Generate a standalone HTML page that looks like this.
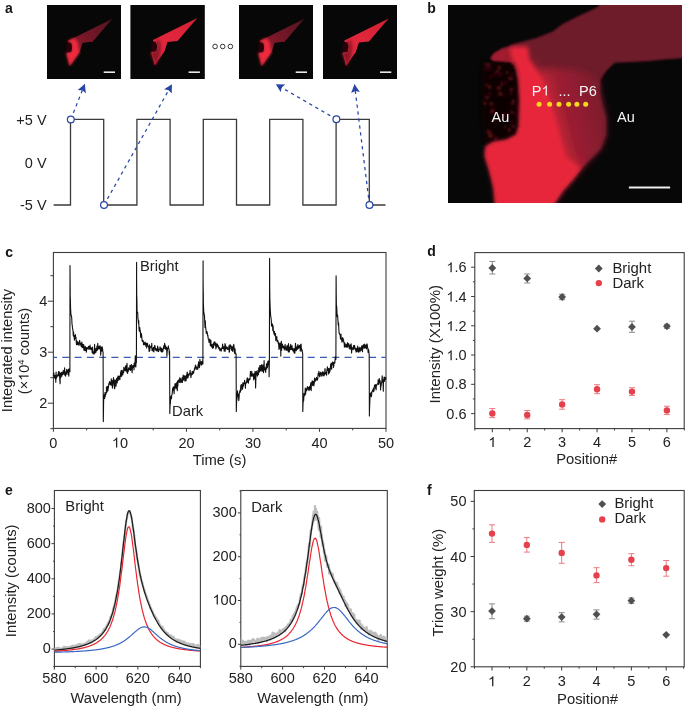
<!DOCTYPE html><html><head><meta charset="utf-8"><style>
html,body{margin:0;padding:0;background:#fff;}
svg{display:block;will-change:transform;}
text{font-family:"Liberation Sans", sans-serif;}
</style></head><body>
<svg width="685" height="709" viewBox="0 0 685 709">
<rect width="685" height="709" fill="#fff"/>
<defs>
<filter id="bl1" x="-20%" y="-20%" width="140%" height="140%"><feGaussianBlur stdDeviation="0.7"/></filter>
<filter id="bl2" x="-20%" y="-20%" width="140%" height="140%"><feGaussianBlur stdDeviation="1.5"/></filter>
<filter id="bl3" x="-20%" y="-20%" width="140%" height="140%"><feGaussianBlur stdDeviation="3"/></filter>
<filter id="bu2" filterUnits="userSpaceOnUse" x="430" y="-10" width="270" height="230"><feGaussianBlur stdDeviation="2"/></filter>
<filter id="bu3" filterUnits="userSpaceOnUse" x="430" y="-10" width="270" height="230"><feGaussianBlur stdDeviation="3.5"/></filter>
<filter id="bu1" filterUnits="userSpaceOnUse" x="430" y="-10" width="270" height="230"><feGaussianBlur stdDeviation="1.3"/></filter>
<marker id="ah" viewBox="0 0 8.2 9" refX="7.9" refY="4.5" markerWidth="8.2" markerHeight="9" markerUnits="userSpaceOnUse" orient="auto"><path d="M0,0.1 L8.2,4.5 L0,8.9 L1.5,4.5 Z" fill="#2846a6"/></marker>
</defs>

<text x="5.0" y="13.0" font-size="14" text-anchor="start" fill="#151515" font-weight="bold" >a</text>
<text x="427.3" y="12.6" font-size="14" text-anchor="start" fill="#151515" font-weight="bold" >b</text>
<text x="5.3" y="256.8" font-size="14" text-anchor="start" fill="#151515" font-weight="bold" >c</text>
<text x="427.2" y="256.2" font-size="14" text-anchor="start" fill="#151515" font-weight="bold" >d</text>
<text x="5.0" y="495.2" font-size="14" text-anchor="start" fill="#151515" font-weight="bold" >e</text>
<text x="427.0" y="495.4" font-size="14" text-anchor="start" fill="#151515" font-weight="bold" >f</text>
<rect x="47" y="5" width="74" height="74" fill="#070707"/>
<linearGradient id="fg47" gradientUnits="userSpaceOnUse" x1="75" y1="45" x2="109" y2="21"><stop offset="0" stop-color="#881a2c"/><stop offset="1" stop-color="#561220"/></linearGradient>
<polygon points="68.1,40.8 112.4,18.8 92.6,41.7 82.6,42.8 79.4,52.5 69.7,66.0 66.4,53.6 67.0,52.5 71.5,51.8 72.2,46.0 71.0,42.8 68.3,42.3" fill="url(#fg47)" filter="url(#bl1)"/>
<polygon points="68.1,40.8 74.5,38.2 77.5,42.0 79.4,52.5 69.7,66.0 66.4,53.6 67.0,52.5 71.5,51.8 72.2,46.0 71.0,42.8 68.3,42.3" fill="#f02a3c" filter="url(#bl2)"/>
<polygon points="66.5,42.5 71.0,43.0 72.0,48.0 71.0,52.0 66.5,52.5" fill="#2a0508" filter="url(#bl1)"/>
<line x1="103.70" y1="72.20" x2="115.00" y2="72.20" stroke="#e8e8e8" stroke-width="1.6" />
<rect x="130.4" y="5" width="74.4" height="74" fill="#070707"/>
<linearGradient id="fg130" gradientUnits="userSpaceOnUse" x1="159.9" y1="44.2" x2="193.9" y2="20.2"><stop offset="0" stop-color="#e4283c"/><stop offset="1" stop-color="#d42236"/></linearGradient>
<polygon points="153.0,40.0 197.3,18.0 177.5,40.9 167.5,42.0 164.3,51.7 154.6,65.2 151.3,52.8 151.9,51.7 156.4,51.0 157.1,45.2 155.9,42.0 153.2,41.5" fill="url(#fg130)" filter="url(#bl1)"/>
<polygon points="150.9,51.7 156.4,51.0 157.4,45.2 155.9,40.7 158.9,39.2 160.9,44.2 160.4,54.2 155.4,66.2 150.9,53.2" fill="#8e1627" filter="url(#bl2)"/>
<polygon points="151.4,41.7 155.9,42.2 156.9,47.2 155.9,51.2 151.4,51.7" fill="#2a0508" filter="url(#bl1)"/>
<line x1="188.60" y1="72.20" x2="199.90" y2="72.20" stroke="#e8e8e8" stroke-width="1.6" />
<rect x="239" y="5" width="74" height="74" fill="#070707"/>
<linearGradient id="fg239" gradientUnits="userSpaceOnUse" x1="267" y1="45" x2="301" y2="21"><stop offset="0" stop-color="#881a2c"/><stop offset="1" stop-color="#561220"/></linearGradient>
<polygon points="260.1,40.8 304.4,18.8 284.6,41.7 274.6,42.8 271.4,52.5 261.7,66.0 258.4,53.6 259.0,52.5 263.5,51.8 264.2,46.0 263.0,42.8 260.3,42.3" fill="url(#fg239)" filter="url(#bl1)"/>
<polygon points="260.1,40.8 266.5,38.2 269.5,42.0 271.4,52.5 261.7,66.0 258.4,53.6 259.0,52.5 263.5,51.8 264.2,46.0 263.0,42.8 260.3,42.3" fill="#f02a3c" filter="url(#bl2)"/>
<polygon points="258.5,42.5 263.0,43.0 264.0,48.0 263.0,52.0 258.5,52.5" fill="#2a0508" filter="url(#bl1)"/>
<line x1="295.70" y1="72.20" x2="307.00" y2="72.20" stroke="#e8e8e8" stroke-width="1.6" />
<rect x="323" y="5" width="74" height="74" fill="#070707"/>
<linearGradient id="fg323" gradientUnits="userSpaceOnUse" x1="351.3" y1="44.7" x2="385.3" y2="20.7"><stop offset="0" stop-color="#e4283c"/><stop offset="1" stop-color="#d42236"/></linearGradient>
<polygon points="344.4,40.5 388.7,18.5 368.9,41.4 358.9,42.5 355.7,52.2 346.0,65.7 342.7,53.3 343.3,52.2 347.8,51.5 348.5,45.7 347.3,42.5 344.6,42.0" fill="url(#fg323)" filter="url(#bl1)"/>
<polygon points="342.3,52.2 347.8,51.5 348.8,45.7 347.3,41.2 350.3,39.7 352.3,44.7 351.8,54.7 346.8,66.7 342.3,53.7" fill="#8e1627" filter="url(#bl2)"/>
<polygon points="342.8,42.2 347.3,42.7 348.3,47.7 347.3,51.7 342.8,52.2" fill="#2a0508" filter="url(#bl1)"/>
<line x1="380.00" y1="72.20" x2="391.30" y2="72.20" stroke="#e8e8e8" stroke-width="1.6" />
<circle cx="215.1" cy="46.5" r="2.3" fill="none" stroke="#333" stroke-width="1"/>
<circle cx="222.7" cy="46.5" r="2.3" fill="none" stroke="#333" stroke-width="1"/>
<circle cx="230.4" cy="46.5" r="2.3" fill="none" stroke="#333" stroke-width="1"/>
<path d="M53.6,205 L70.5,205  L70.5,119.3 L103.7,119.3  L103.7,205 L136.9,205  L136.9,119.3 L170.1,119.3  L170.1,205 L203.3,205  L203.3,119.3 L236.5,119.3  L236.5,205 L269.7,205  L269.7,119.3 L302.9,119.3  L302.9,205 L336.1,205  L336.1,119.3 L369.3,119.3  L369.3,205 L385.5,205" fill="none" stroke="#3a3a3a" stroke-width="1.3"/>
<text x="46.6" y="125.0" font-size="14.5" text-anchor="end" fill="#222" font-weight="normal" >+5 V</text>
<text x="46.6" y="168.3" font-size="14.5" text-anchor="end" fill="#222" font-weight="normal" >0 V</text>
<text x="46.6" y="210.4" font-size="14.5" text-anchor="end" fill="#222" font-weight="normal" >-5 V</text>
<path d="M70.8,119.4 L84.7,84.4" stroke="#2846a6" stroke-width="1.25" stroke-dasharray="3.3 3.7" fill="none" marker-end="url(#ah)"/>
<path d="M104,205 L171.8,84.6" stroke="#2846a6" stroke-width="1.25" stroke-dasharray="3.3 3.7" fill="none" marker-end="url(#ah)"/>
<path d="M336.4,119.3 L276.1,84.4" stroke="#2846a6" stroke-width="1.25" stroke-dasharray="3.3 3.7" fill="none" marker-end="url(#ah)"/>
<path d="M369.5,205 L354.5,84.6" stroke="#2846a6" stroke-width="1.25" stroke-dasharray="3.3 3.7" fill="none" marker-end="url(#ah)"/>
<circle cx="70.8" cy="119.4" r="3.4" fill="#fff" stroke="#2846a6" stroke-width="1.25"/>
<circle cx="104" cy="205" r="3.4" fill="#fff" stroke="#2846a6" stroke-width="1.25"/>
<circle cx="336.4" cy="119.3" r="3.4" fill="#fff" stroke="#2846a6" stroke-width="1.25"/>
<circle cx="369.5" cy="205" r="3.4" fill="#fff" stroke="#2846a6" stroke-width="1.25"/>
<clipPath id="cb"><rect x="448" y="5" width="234" height="198"/></clipPath>
<rect x="448" y="5" width="234" height="198" fill="#070707"/>
<g clip-path="url(#cb)">
<polygon points="482.0,62.0 515.0,62.0 520.0,100.0 519.0,126.0 516.0,135.0 506.0,140.0 493.0,142.0 485.0,146.0 482.0,117.0" fill="#100405" filter="url(#bu3)"/>
<g filter="url(#bu1)">
<circle cx="489.4" cy="68.5" r="2.5" fill="rgb(39,5,7)"/>
<circle cx="495.8" cy="72.7" r="2.4" fill="rgb(52,7,10)"/>
<circle cx="510.6" cy="78.2" r="2.5" fill="rgb(77,11,15)"/>
<circle cx="501.5" cy="82.7" r="1.5" fill="rgb(60,8,12)"/>
<circle cx="486.9" cy="68.7" r="2.5" fill="rgb(43,6,8)"/>
<circle cx="513.2" cy="126.1" r="2.3" fill="rgb(52,7,10)"/>
<circle cx="512.0" cy="75.9" r="2.1" fill="rgb(38,5,7)"/>
<circle cx="492.4" cy="111.4" r="2.4" fill="rgb(79,11,15)"/>
<circle cx="509.3" cy="130.1" r="2.1" fill="rgb(71,10,14)"/>
<circle cx="515.2" cy="67.1" r="1.9" fill="rgb(60,8,12)"/>
<circle cx="504.2" cy="115.1" r="2.5" fill="rgb(48,6,9)"/>
<circle cx="500.2" cy="74.6" r="2.3" fill="rgb(48,6,9)"/>
<circle cx="498.9" cy="67.3" r="2.5" fill="rgb(35,5,7)"/>
<circle cx="501.9" cy="84.6" r="2.1" fill="rgb(51,7,10)"/>
<circle cx="516.4" cy="106.9" r="1.4" fill="rgb(59,8,11)"/>
<circle cx="500.3" cy="93.9" r="2.4" fill="rgb(70,10,14)"/>
<circle cx="504.0" cy="95.3" r="1.3" fill="rgb(47,6,9)"/>
<circle cx="486.5" cy="85.0" r="1.4" fill="rgb(73,10,14)"/>
<circle cx="512.5" cy="63.5" r="1.7" fill="rgb(70,10,14)"/>
<circle cx="491.2" cy="103.8" r="2.3" fill="rgb(65,9,13)"/>
<circle cx="498.8" cy="88.1" r="2.5" fill="rgb(63,9,12)"/>
<circle cx="496.5" cy="76.6" r="1.2" fill="rgb(37,5,7)"/>
<circle cx="505.3" cy="82.7" r="2.2" fill="rgb(42,6,8)"/>
<circle cx="494.2" cy="121.2" r="1.9" fill="rgb(51,7,10)"/>
<circle cx="492.8" cy="105.8" r="2.1" fill="rgb(43,6,8)"/>
<circle cx="510.6" cy="110.5" r="1.3" fill="rgb(40,5,8)"/>
<circle cx="489.5" cy="87.1" r="2.3" fill="rgb(68,9,13)"/>
<circle cx="487.1" cy="97.6" r="2.5" fill="rgb(54,7,10)"/>
<circle cx="496.4" cy="137.4" r="2.4" fill="rgb(39,5,7)"/>
<circle cx="504.8" cy="127.1" r="1.3" fill="rgb(69,9,13)"/>
<circle cx="491.7" cy="75.7" r="1.8" fill="rgb(48,6,9)"/>
<circle cx="497.8" cy="71.2" r="2.3" fill="rgb(54,7,10)"/>
<circle cx="495.3" cy="138.9" r="1.7" fill="rgb(66,9,13)"/>
<circle cx="511.3" cy="89.7" r="2.4" fill="rgb(60,8,12)"/>
<circle cx="491.6" cy="68.0" r="1.3" fill="rgb(42,6,8)"/>
<circle cx="488.3" cy="64.9" r="2.5" fill="rgb(58,8,11)"/>
<circle cx="507.1" cy="72.3" r="1.9" fill="rgb(62,8,12)"/>
<circle cx="484.9" cy="103.4" r="1.8" fill="rgb(80,11,16)"/>
<circle cx="511.0" cy="93.6" r="2.3" fill="rgb(39,5,7)"/>
<circle cx="489.7" cy="93.7" r="2.1" fill="rgb(47,6,9)"/>
<circle cx="489.9" cy="132.9" r="2.1" fill="rgb(65,9,13)"/>
<circle cx="513.2" cy="100.9" r="1.8" fill="rgb(70,10,14)"/>
<circle cx="489.7" cy="77.1" r="1.4" fill="rgb(45,6,9)"/>
<circle cx="489.3" cy="131.3" r="1.4" fill="rgb(44,6,8)"/>
<circle cx="485.7" cy="64.2" r="1.7" fill="rgb(56,8,11)"/>
<circle cx="517.1" cy="106.4" r="1.6" fill="rgb(35,5,7)"/>
<circle cx="516.0" cy="113.6" r="2.2" fill="rgb(35,5,7)"/>
<circle cx="511.6" cy="121.1" r="2.1" fill="rgb(42,6,8)"/>
<circle cx="499.8" cy="67.6" r="2.0" fill="rgb(66,9,13)"/>
<circle cx="488.4" cy="131.7" r="2.3" fill="rgb(73,10,14)"/>
<circle cx="493.5" cy="113.9" r="1.9" fill="rgb(39,5,7)"/>
<circle cx="512.0" cy="112.7" r="1.9" fill="rgb(61,8,12)"/>
<circle cx="512.6" cy="103.3" r="2.4" fill="rgb(57,8,11)"/>
<circle cx="506.2" cy="116.2" r="1.5" fill="rgb(46,6,9)"/>
<circle cx="490.7" cy="135.7" r="2.6" fill="rgb(75,10,15)"/>
</g>
<polygon points="490.9,57.6 500.6,48.8 518.0,42.7 535.6,38.3 553.1,31.3 562.0,24.3 579.5,15.5 597.0,7.6 600.5,3.0 690.0,3.0 690.0,57.6 667.0,59.3 649.6,61.0 632.0,62.0 614.6,62.8 605.8,71.6 600.5,80.3 599.7,92.6 602.3,105.0 605.8,117.5 605.8,135.0 600.6,149.0 586.5,163.0 574.3,177.0 562.0,191.0 552.0,206.0 495.3,206.0 493.5,187.6 489.2,170.0 484.8,156.0 485.7,146.4 493.5,142.0 505.8,140.3 516.3,135.0 519.0,126.3 519.8,100.0 518.0,80.0 515.0,66.0 510.0,61.0 500.0,60.5 492.0,60.0" fill="#6e1a29" filter="url(#bu1)"/>
<linearGradient id="gb" gradientUnits="userSpaceOnUse" x1="545" y1="120" x2="605" y2="105"><stop offset="0" stop-color="#b02236"/><stop offset="1" stop-color="#7a1b2c"/></linearGradient>
<polygon points="534.0,72.0 550.0,68.0 575.0,70.0 592.0,74.0 600.0,84.0 600.0,92.0 603.0,105.0 605.8,117.5 605.8,135.0 600.6,149.0 586.5,163.0 574.3,177.0 562.0,191.0 552.0,206.0 530.0,206.0" fill="url(#gb)" filter="url(#bu3)"/>
<polygon points="490.5,58.5 494.0,53.0 502.0,49.5 512.0,47.0 516.0,58.0 513.0,62.5 503.0,61.5 494.0,61.0" fill="#a01c2e" filter="url(#bu1)"/>
<clipPath id="cdim"><polygon points="490.9,57.6 500.6,48.8 518.0,42.7 535.6,38.3 553.1,31.3 562.0,24.3 579.5,15.5 597.0,7.6 600.5,3.0 690.0,3.0 690.0,57.6 667.0,59.3 649.6,61.0 632.0,62.0 614.6,62.8 605.8,71.6 600.5,80.3 599.7,92.6 602.3,105.0 605.8,117.5 605.8,135.0 600.6,149.0 586.5,163.0 574.3,177.0 562.0,191.0 552.0,206.0 495.3,206.0 493.5,187.6 489.2,170.0 484.8,156.0 485.7,146.4 493.5,142.0 505.8,140.3 516.3,135.0 519.0,126.3 519.8,100.0 518.0,80.0 515.0,66.0 510.0,61.0 500.0,60.5 492.0,60.0"/></clipPath>
<linearGradient id="gmlow" gradientUnits="userSpaceOnUse" x1="0" y1="52" x2="0" y2="82"><stop offset="0" stop-color="#000"/><stop offset="1" stop-color="#fff"/></linearGradient>
<mask id="mlow" maskUnits="userSpaceOnUse" x="440" y="0" width="250" height="215"><rect x="440" y="0" width="250" height="215" fill="url(#gmlow)"/></mask>
<filter id="bu6" filterUnits="userSpaceOnUse" x="430" y="-10" width="270" height="230"><feGaussianBlur stdDeviation="6"/></filter>
<g clip-path="url(#cdim)"><g mask="url(#mlow)"><polygon points="515.0,46.5 532.0,46.5 533.5,59.3 545.7,78.8 554.2,103.2 560.3,122.7 565.0,142.2 570.0,158.0 584.0,168.0 578.3,177.0 566.0,191.0 556.0,206.0 499.3,206.0 497.5,187.6 493.2,170.0 488.8,156.0 489.7,146.4 497.5,142.0 509.8,140.3 520.3,135.0 523.0,126.3 523.8,100.0 523.0,80.0 521.0,68.0 517.0,60.0 514.0,52.0" fill="#d42638" filter="url(#bu6)" opacity="0.85"/></g></g>
<polygon points="511.0,46.5 528.0,46.5 529.5,59.3 541.7,78.8 550.2,103.2 556.3,122.7 561.0,142.2 566.0,158.0 580.0,168.0 574.3,177.0 562.0,191.0 552.0,206.0 495.3,206.0 493.5,187.6 489.2,170.0 484.8,156.0 485.7,146.4 493.5,142.0 505.8,140.3 516.3,135.0 519.0,126.3 519.8,100.0 519.0,80.0 517.0,68.0 513.0,60.0 510.0,52.0" fill="#e8283b" filter="url(#bu2)"/>
</g>
<line x1="628.90" y1="187.60" x2="670.10" y2="187.60" stroke="#eee" stroke-width="2" />
<circle cx="539.1" cy="104.2" r="2.5" fill="#f4d81c"/>
<circle cx="549.6" cy="104.2" r="2.5" fill="#f4d81c"/>
<circle cx="559" cy="104.2" r="2.5" fill="#f4d81c"/>
<circle cx="568.6" cy="104.2" r="2.5" fill="#f4d81c"/>
<circle cx="576.9" cy="104.2" r="2.5" fill="#f4d81c"/>
<circle cx="585.7" cy="104.2" r="2.5" fill="#f4d81c"/>
<text x="531.8" y="95.6" font-size="14.5" text-anchor="start" fill="#f4f4f4" font-weight="normal" >P&#8199;</text>
<path d="M763,0H583V1100Q518,1040 412,980Q307,920 223,890V1060Q374,1128 487,1225Q600,1322 647,1409H763Z" fill="#f4f4f4" transform="translate(541.47,95.6) scale(0.007080,-0.007080)"/>
<text x="558.5" y="95.6" font-size="14.5" text-anchor="start" fill="#f4f4f4" font-weight="normal" >...</text>
<text x="579.0" y="95.6" font-size="14.5" text-anchor="start" fill="#f4f4f4" font-weight="normal" >P6</text>
<text x="491.5" y="122.0" font-size="14.5" text-anchor="start" fill="#f4f4f4" font-weight="normal" >Au</text>
<text x="617.0" y="122.0" font-size="14.5" text-anchor="start" fill="#f4f4f4" font-weight="normal" >Au</text>
<rect x="53.4" y="252.5" width="332.6" height="175.89999999999998" fill="none" stroke="#3c3c3c" stroke-width="1.1"/>
<line x1="50.40" y1="428.70" x2="53.40" y2="428.70" stroke="#3c3c3c" stroke-width="1" />
<line x1="47.90" y1="403.20" x2="53.40" y2="403.20" stroke="#3c3c3c" stroke-width="1" />
<text x="39.24" y="407.70" font-size="14.5" fill="#222">2</text>
<line x1="50.40" y1="377.70" x2="53.40" y2="377.70" stroke="#3c3c3c" stroke-width="1" />
<line x1="47.90" y1="352.20" x2="53.40" y2="352.20" stroke="#3c3c3c" stroke-width="1" />
<text x="39.24" y="356.70" font-size="14.5" fill="#222">3</text>
<line x1="50.40" y1="326.70" x2="53.40" y2="326.70" stroke="#3c3c3c" stroke-width="1" />
<line x1="47.90" y1="301.20" x2="53.40" y2="301.20" stroke="#3c3c3c" stroke-width="1" />
<text x="39.24" y="305.70" font-size="14.5" fill="#222">4</text>
<line x1="50.40" y1="275.70" x2="53.40" y2="275.70" stroke="#3c3c3c" stroke-width="1" />
<line x1="53.40" y1="428.40" x2="53.40" y2="431.80" stroke="#3c3c3c" stroke-width="1" />
<text x="49.37" y="447.60" font-size="14.5" fill="#222">0</text>
<line x1="86.66" y1="428.40" x2="86.66" y2="430.40" stroke="#3c3c3c" stroke-width="1" />
<line x1="119.92" y1="428.40" x2="119.92" y2="431.80" stroke="#3c3c3c" stroke-width="1" />
<text x="111.86" y="447.60" font-size="14.5" fill="#222">&#8199;0</text>
<path d="M763,0H583V1100Q518,1040 412,980Q307,920 223,890V1060Q374,1128 487,1225Q600,1322 647,1409H763Z" fill="#222" transform="translate(111.86,447.60) scale(0.007080,-0.007080)"/>
<line x1="153.18" y1="428.40" x2="153.18" y2="430.40" stroke="#3c3c3c" stroke-width="1" />
<line x1="186.44" y1="428.40" x2="186.44" y2="431.80" stroke="#3c3c3c" stroke-width="1" />
<text x="178.38" y="447.60" font-size="14.5" fill="#222">20</text>
<line x1="219.70" y1="428.40" x2="219.70" y2="430.40" stroke="#3c3c3c" stroke-width="1" />
<line x1="252.96" y1="428.40" x2="252.96" y2="431.80" stroke="#3c3c3c" stroke-width="1" />
<text x="244.90" y="447.60" font-size="14.5" fill="#222">30</text>
<line x1="286.22" y1="428.40" x2="286.22" y2="430.40" stroke="#3c3c3c" stroke-width="1" />
<line x1="319.48" y1="428.40" x2="319.48" y2="431.80" stroke="#3c3c3c" stroke-width="1" />
<text x="311.42" y="447.60" font-size="14.5" fill="#222">40</text>
<line x1="352.74" y1="428.40" x2="352.74" y2="430.40" stroke="#3c3c3c" stroke-width="1" />
<line x1="386.00" y1="428.40" x2="386.00" y2="431.80" stroke="#3c3c3c" stroke-width="1" />
<text x="377.94" y="447.60" font-size="14.5" fill="#222">50</text>
<text transform="translate(11.7,350.5) rotate(-90)" font-size="14.6" text-anchor="middle" fill="#222">Integrated intensity</text>
<g transform="translate(28.6,351) rotate(-90)"><text x="-43.14" y="0" font-size="14.5" fill="#222">(×&#8199;0<tspan font-size="9.5" dy="-5">4</tspan><tspan dy="5"> counts)</tspan></text><path d="M763,0H583V1100Q518,1040 412,980Q307,920 223,890V1060Q374,1128 487,1225Q600,1322 647,1409H763Z" fill="#222" transform="translate(-29.85,0) scale(0.007080,-0.007080)"/></g>
<text x="219.5" y="465.0" font-size="14.8" text-anchor="middle" fill="#222" font-weight="normal" >Time (s)</text>
<line x1="53.4" y1="357.3" x2="386" y2="357.3" stroke="#3a5ab4" stroke-width="1.2" stroke-dasharray="7 5.27" stroke-dashoffset="3.35"/>
<path d="M53.4,376.3 L53.7,372.7 L53.9,373.5 L54.2,377.2 L54.5,377.1 L54.7,378.2 L55.0,375.4 L55.3,378.2 L55.5,376.7 L55.8,382.3 L56.1,372.0 L56.3,378.5 L56.6,376.4 L56.9,377.0 L57.1,376.9 L57.4,375.3 L57.7,374.8 L57.9,375.8 L58.2,374.4 L58.5,371.6 L58.7,373.9 L59.0,376.0 L59.3,371.9 L59.5,373.6 L59.8,379.7 L60.1,383.8 L60.3,373.1 L60.6,375.3 L60.9,377.5 L61.1,373.8 L61.4,372.3 L61.6,374.8 L61.9,376.2 L62.2,373.6 L62.4,372.5 L62.7,374.5 L63.0,371.8 L63.2,370.5 L63.5,372.9 L63.8,374.2 L64.0,371.6 L64.3,371.8 L64.6,367.8 L64.8,375.1 L65.1,374.3 L65.4,374.2 L65.6,376.2 L65.9,372.3 L66.2,371.2 L66.4,374.2 L66.7,369.4 L67.0,371.1 L67.2,371.2 L67.5,372.4 L67.8,370.1 L68.0,374.5 L68.3,370.7 L68.6,369.1 L68.8,376.1 L69.1,370.4 L69.4,371.8 L69.6,368.8 L69.9,371.7 L70.0,265.5 L70.1,279.9 L70.2,289.0 L70.2,295.0 L70.4,300.1 L70.6,308.8 L70.9,313.9 L71.2,315.1 L71.4,315.8 L71.7,317.6 L72.0,324.2 L72.2,324.9 L72.5,327.9 L72.8,329.6 L73.0,330.4 L73.3,335.6 L73.6,332.3 L73.8,336.7 L74.1,335.3 L74.4,340.1 L74.6,339.2 L74.9,338.2 L75.2,335.6 L75.4,334.6 L75.7,338.1 L76.0,337.5 L76.2,341.1 L76.5,344.8 L76.7,340.8 L77.0,341.1 L77.3,344.5 L77.5,342.3 L77.8,342.0 L78.1,344.5 L78.3,345.2 L78.6,343.0 L78.9,343.4 L79.1,343.9 L79.4,341.4 L79.7,340.3 L79.9,345.2 L80.2,342.9 L80.5,343.4 L80.7,344.0 L81.0,344.1 L81.3,346.8 L81.5,344.4 L81.8,342.1 L82.1,343.7 L82.3,347.7 L82.6,345.6 L82.9,344.6 L83.1,346.2 L83.4,347.9 L83.7,344.5 L83.9,350.2 L84.2,347.3 L84.5,348.1 L84.7,350.4 L85.0,346.2 L85.3,347.4 L85.5,350.5 L85.8,347.2 L86.1,348.8 L86.3,352.3 L86.6,350.0 L86.9,347.9 L87.1,347.5 L87.4,348.8 L87.7,348.8 L87.9,347.9 L88.2,349.2 L88.5,346.2 L88.7,348.0 L89.0,347.4 L89.3,346.6 L89.5,349.3 L89.8,348.6 L90.1,345.1 L90.3,348.0 L90.6,349.2 L90.9,347.8 L91.1,349.5 L91.4,348.0 L91.6,349.7 L91.9,349.1 L92.2,352.7 L92.4,347.1 L92.7,350.9 L93.0,353.6 L93.2,351.8 L93.5,352.6 L93.8,351.9 L94.0,354.1 L94.3,350.9 L94.6,344.4 L94.8,353.1 L95.1,349.1 L95.4,349.7 L95.6,348.8 L95.9,352.5 L96.2,351.2 L96.4,348.0 L96.7,349.9 L97.0,346.0 L97.2,350.4 L97.5,349.1 L97.8,343.4 L98.0,349.2 L98.3,349.1 L98.6,347.2 L98.8,347.3 L99.1,346.0 L99.4,348.1 L99.6,348.9 L99.9,348.3 L100.2,345.7 L100.4,348.0 L100.7,355.2 L101.0,350.2 L101.2,351.6 L101.5,347.3 L101.8,350.7 L102.0,346.6 L102.3,347.5 L102.6,348.9 L102.8,351.5 L103.1,352.2 L103.3,421.6 L103.4,417.0 L103.5,410.0 L103.6,401.6 L103.9,396.2 L104.2,394.9 L104.4,398.3 L104.7,398.5 L105.0,392.6 L105.2,396.6 L105.5,393.6 L105.8,394.8 L106.0,392.3 L106.3,393.0 L106.5,386.8 L106.8,392.5 L107.1,389.9 L107.3,389.8 L107.6,386.4 L107.9,391.0 L108.1,388.4 L108.4,387.9 L108.7,384.8 L108.9,383.3 L109.2,384.6 L109.5,381.5 L109.7,383.0 L110.0,382.1 L110.3,382.3 L110.5,384.9 L110.8,383.8 L111.1,383.1 L111.3,378.7 L111.6,385.3 L111.9,383.8 L112.1,380.2 L112.4,388.1 L112.7,386.0 L112.9,385.5 L113.2,382.7 L113.5,377.5 L113.7,381.8 L114.0,379.6 L114.3,384.5 L114.5,388.6 L114.8,388.4 L115.1,380.0 L115.3,382.4 L115.6,385.9 L115.9,380.9 L116.1,386.1 L116.4,379.5 L116.7,378.4 L116.9,382.6 L117.2,382.9 L117.5,377.5 L117.7,380.9 L118.0,376.0 L118.3,380.2 L118.5,376.0 L118.8,376.5 L119.1,377.8 L119.3,379.2 L119.6,376.2 L119.9,379.8 L120.1,375.8 L120.4,375.2 L120.7,371.7 L120.9,376.5 L121.2,370.2 L121.4,373.6 L121.7,376.2 L122.0,370.9 L122.2,370.3 L122.5,373.9 L122.8,374.9 L123.0,371.8 L123.3,373.0 L123.6,372.6 L123.8,367.2 L124.1,369.5 L124.4,369.4 L124.6,369.2 L124.9,370.8 L125.2,368.5 L125.4,366.3 L125.7,370.8 L126.0,370.5 L126.2,365.3 L126.5,370.4 L126.8,372.1 L127.0,363.2 L127.3,371.4 L127.6,373.5 L127.8,369.6 L128.1,371.6 L128.4,370.6 L128.6,367.9 L128.9,368.9 L129.2,369.1 L129.4,369.6 L129.7,369.1 L130.0,365.2 L130.2,370.1 L130.5,370.4 L130.8,365.3 L131.0,369.7 L131.3,365.0 L131.6,364.7 L131.8,368.8 L132.1,372.6 L132.4,368.1 L132.6,366.7 L132.9,365.6 L133.2,367.5 L133.4,365.2 L133.7,365.3 L134.0,369.8 L134.2,363.0 L134.5,365.1 L134.8,366.4 L135.0,364.3 L135.3,355.7 L135.6,361.3 L135.8,366.9 L136.1,362.4 L136.4,362.5 L136.6,262.4 L136.6,278.0 L136.7,287.9 L136.7,294.3 L136.9,298.7 L137.1,313.0 L137.4,312.6 L137.7,312.3 L137.9,318.2 L138.2,320.2 L138.5,323.5 L138.7,320.6 L139.0,328.8 L139.3,331.1 L139.5,328.5 L139.8,327.5 L140.1,331.5 L140.3,330.6 L140.6,336.3 L140.9,337.5 L141.1,333.1 L141.4,334.0 L141.7,335.5 L141.9,338.8 L142.2,340.9 L142.5,341.3 L142.7,340.4 L143.0,340.5 L143.3,341.6 L143.5,344.6 L143.8,342.2 L144.1,344.2 L144.3,344.2 L144.6,344.6 L144.9,344.6 L145.1,342.0 L145.4,343.2 L145.7,343.6 L145.9,346.1 L146.2,343.2 L146.5,344.4 L146.7,347.9 L147.0,343.4 L147.3,345.4 L147.5,343.4 L147.8,346.0 L148.1,346.2 L148.3,346.3 L148.6,346.9 L148.9,348.7 L149.1,351.4 L149.4,344.8 L149.7,350.9 L149.9,348.8 L150.2,346.9 L150.5,347.2 L150.7,346.8 L151.0,346.2 L151.3,345.8 L151.5,347.8 L151.8,343.4 L152.0,350.5 L152.3,348.4 L152.6,349.6 L152.8,350.9 L153.1,349.5 L153.4,347.4 L153.6,351.2 L153.9,351.9 L154.2,348.6 L154.4,348.0 L154.7,345.4 L155.0,346.1 L155.2,347.8 L155.5,350.0 L155.8,349.0 L156.0,348.7 L156.3,350.9 L156.6,348.9 L156.8,349.6 L157.1,350.1 L157.4,350.9 L157.6,346.1 L157.9,348.4 L158.2,347.9 L158.4,351.4 L158.7,351.4 L159.0,350.0 L159.2,349.9 L159.5,349.4 L159.8,349.3 L160.0,346.7 L160.3,347.9 L160.6,350.2 L160.8,351.1 L161.1,350.3 L161.4,348.1 L161.6,352.0 L161.9,350.2 L162.2,349.0 L162.4,350.4 L162.7,352.0 L163.0,350.6 L163.2,348.9 L163.5,347.6 L163.8,345.7 L164.0,346.4 L164.3,348.7 L164.6,343.3 L164.8,344.9 L165.1,344.8 L165.4,345.8 L165.6,349.3 L165.9,349.0 L166.2,348.5 L166.4,347.1 L166.7,349.8 L166.9,356.3 L167.2,351.1 L167.5,350.0 L167.7,347.9 L168.0,348.3 L168.3,345.7 L168.5,347.7 L168.8,348.6 L169.1,349.6 L169.3,354.8 L169.6,351.1 L169.8,413.4 L169.9,410.3 L170.0,405.6 L170.1,405.2 L170.4,402.9 L170.7,396.4 L170.9,396.3 L171.2,398.8 L171.5,398.8 L171.7,395.1 L172.0,395.0 L172.3,392.6 L172.5,389.9 L172.8,387.7 L173.1,390.4 L173.3,386.7 L173.6,387.7 L173.9,391.1 L174.1,393.8 L174.4,386.8 L174.7,388.3 L174.9,383.9 L175.2,386.7 L175.5,387.4 L175.7,383.5 L176.0,389.0 L176.3,386.9 L176.5,386.8 L176.8,382.2 L177.1,382.7 L177.3,390.8 L177.6,380.9 L177.9,386.1 L178.1,381.3 L178.4,382.1 L178.7,380.6 L178.9,379.5 L179.2,380.7 L179.5,382.5 L179.7,377.7 L180.0,380.1 L180.3,381.1 L180.5,380.6 L180.8,382.6 L181.1,378.0 L181.3,381.1 L181.6,380.8 L181.9,380.4 L182.1,382.4 L182.4,382.4 L182.6,377.4 L182.9,377.8 L183.2,375.0 L183.4,376.8 L183.7,380.3 L184.0,376.3 L184.2,375.9 L184.5,375.8 L184.8,377.8 L185.0,381.3 L185.3,376.0 L185.6,379.5 L185.8,376.5 L186.1,380.8 L186.4,375.0 L186.6,378.2 L186.9,374.0 L187.2,372.0 L187.4,372.9 L187.7,378.0 L188.0,377.3 L188.2,377.2 L188.5,374.1 L188.8,374.0 L189.0,375.4 L189.3,373.6 L189.6,374.0 L189.8,372.9 L190.1,370.4 L190.4,373.4 L190.6,373.3 L190.9,377.7 L191.2,375.7 L191.4,373.9 L191.7,374.8 L192.0,373.2 L192.2,371.4 L192.5,374.3 L192.8,373.3 L193.0,373.6 L193.3,371.6 L193.6,373.3 L193.8,371.1 L194.1,370.8 L194.4,369.2 L194.6,367.8 L194.9,369.7 L195.2,368.7 L195.4,365.0 L195.7,367.4 L196.0,366.1 L196.2,366.9 L196.5,368.0 L196.8,369.4 L197.0,369.3 L197.3,367.4 L197.5,368.6 L197.8,369.2 L198.1,364.2 L198.3,367.2 L198.6,361.9 L198.9,365.2 L199.1,364.1 L199.4,367.8 L199.7,365.5 L199.9,359.2 L200.2,362.6 L200.5,362.1 L200.7,363.9 L201.0,361.7 L201.3,365.3 L201.5,364.2 L201.8,361.9 L202.1,361.3 L202.3,364.2 L202.6,363.7 L202.9,363.9 L203.1,260.9 L203.1,277.1 L203.2,287.4 L203.3,294.0 L203.4,303.7 L203.7,311.1 L203.9,312.5 L204.2,314.7 L204.5,316.2 L204.7,321.6 L205.0,327.4 L205.3,320.7 L205.5,325.8 L205.8,329.0 L206.1,330.1 L206.3,333.5 L206.6,331.2 L206.9,332.0 L207.1,331.8 L207.4,333.9 L207.7,336.1 L207.9,335.4 L208.2,338.7 L208.5,339.4 L208.7,339.2 L209.0,342.4 L209.3,340.1 L209.5,341.0 L209.8,339.0 L210.1,341.0 L210.3,345.6 L210.6,342.0 L210.9,340.3 L211.1,346.3 L211.4,345.1 L211.7,344.6 L211.9,347.3 L212.2,346.0 L212.4,344.7 L212.7,348.4 L213.0,344.7 L213.2,343.7 L213.5,347.6 L213.8,344.1 L214.0,342.1 L214.3,344.5 L214.6,343.1 L214.8,341.7 L215.1,345.4 L215.4,343.1 L215.6,344.2 L215.9,348.9 L216.2,343.3 L216.4,343.9 L216.7,344.6 L217.0,347.3 L217.2,345.3 L217.5,344.1 L217.8,346.1 L218.0,345.2 L218.3,345.7 L218.6,348.3 L218.8,347.3 L219.1,349.2 L219.4,347.4 L219.6,349.3 L219.9,350.7 L220.2,349.7 L220.4,349.4 L220.7,349.4 L221.0,348.2 L221.2,351.1 L221.5,349.3 L221.8,348.3 L222.0,347.7 L222.3,348.4 L222.6,344.0 L222.8,346.0 L223.1,348.7 L223.4,347.4 L223.6,346.7 L223.9,347.3 L224.2,351.3 L224.4,348.2 L224.7,347.2 L225.0,343.5 L225.2,351.3 L225.5,344.9 L225.8,347.9 L226.0,346.3 L226.3,348.6 L226.6,348.0 L226.8,347.3 L227.1,349.1 L227.3,347.2 L227.6,349.1 L227.9,349.3 L228.1,349.0 L228.4,349.3 L228.7,348.5 L228.9,345.8 L229.2,352.2 L229.5,351.8 L229.7,348.7 L230.0,344.5 L230.3,346.3 L230.5,345.2 L230.8,345.6 L231.1,348.7 L231.3,346.7 L231.6,350.2 L231.9,347.9 L232.1,346.2 L232.4,350.0 L232.7,351.4 L232.9,349.6 L233.2,347.2 L233.5,346.3 L233.7,344.4 L234.0,346.2 L234.3,351.4 L234.5,353.2 L234.8,348.9 L235.1,348.9 L235.3,354.0 L235.6,353.0 L235.9,353.8 L236.1,353.9 L236.3,411.4 L236.4,408.6 L236.5,404.4 L236.7,398.8 L236.9,400.1 L237.2,396.7 L237.5,390.9 L237.7,396.2 L238.0,395.5 L238.3,394.1 L238.5,396.3 L238.8,400.6 L239.1,397.8 L239.3,392.9 L239.6,392.5 L239.9,390.9 L240.1,390.1 L240.4,392.2 L240.7,387.2 L240.9,385.0 L241.2,390.3 L241.5,384.5 L241.7,386.7 L242.0,385.9 L242.3,385.9 L242.5,389.3 L242.8,382.7 L243.0,387.1 L243.3,385.0 L243.6,385.5 L243.8,382.7 L244.1,383.0 L244.4,383.6 L244.6,380.2 L244.9,382.4 L245.2,383.3 L245.4,388.2 L245.7,382.7 L246.0,383.5 L246.2,383.2 L246.5,382.6 L246.8,380.2 L247.0,379.2 L247.3,377.9 L247.6,378.7 L247.8,382.5 L248.1,380.0 L248.4,383.3 L248.6,379.0 L248.9,379.3 L249.2,380.3 L249.4,378.7 L249.7,378.8 L250.0,379.4 L250.2,375.1 L250.5,371.2 L250.8,375.7 L251.0,374.6 L251.3,376.0 L251.6,375.6 L251.8,371.2 L252.1,376.4 L252.4,374.3 L252.6,375.4 L252.9,373.9 L253.2,375.3 L253.4,375.5 L253.7,380.0 L254.0,376.8 L254.2,373.6 L254.5,378.8 L254.8,377.3 L255.0,371.3 L255.3,372.9 L255.6,387.9 L255.8,381.9 L256.1,371.7 L256.4,374.6 L256.6,374.7 L256.9,371.2 L257.2,370.7 L257.4,376.1 L257.7,375.1 L257.9,373.3 L258.2,372.8 L258.5,374.6 L258.7,367.8 L259.0,370.3 L259.3,371.8 L259.5,372.0 L259.8,365.5 L260.1,365.9 L260.3,370.8 L260.6,369.1 L260.9,365.5 L261.1,371.2 L261.4,369.5 L261.7,364.6 L261.9,369.6 L262.2,368.9 L262.5,371.2 L262.7,369.4 L263.0,365.1 L263.3,368.2 L263.5,372.8 L263.8,369.4 L264.1,360.6 L264.3,367.6 L264.6,370.0 L264.9,367.7 L265.1,368.4 L265.4,369.4 L265.7,372.4 L265.9,367.7 L266.2,367.3 L266.5,364.1 L266.7,369.0 L267.0,363.4 L267.3,366.2 L267.5,367.4 L267.8,361.4 L268.1,364.9 L268.3,361.6 L268.6,363.9 L268.9,360.4 L269.1,376.7 L269.4,357.9 L269.6,258.4 L269.7,275.6 L269.7,286.4 L269.8,293.4 L269.9,299.8 L270.2,308.5 L270.5,313.1 L270.7,316.2 L271.0,318.0 L271.3,320.0 L271.5,325.8 L271.8,326.0 L272.1,326.5 L272.3,323.8 L272.6,325.7 L272.8,330.4 L273.1,325.9 L273.4,331.3 L273.6,331.6 L273.9,333.7 L274.2,334.3 L274.4,331.4 L274.7,334.9 L275.0,335.8 L275.2,334.5 L275.5,333.6 L275.8,340.4 L276.0,339.6 L276.3,339.4 L276.6,337.4 L276.8,336.6 L277.1,341.5 L277.4,341.3 L277.6,340.5 L277.9,340.5 L278.2,343.4 L278.4,342.4 L278.7,344.9 L279.0,349.4 L279.2,347.8 L279.5,344.3 L279.8,343.0 L280.0,348.3 L280.3,347.0 L280.6,343.6 L280.8,356.1 L281.1,342.4 L281.4,341.3 L281.6,350.3 L281.9,344.3 L282.2,347.4 L282.4,344.0 L282.7,346.5 L283.0,347.9 L283.2,347.5 L283.5,346.1 L283.8,346.8 L284.0,346.8 L284.3,350.0 L284.6,346.5 L284.8,347.5 L285.1,344.4 L285.4,348.3 L285.6,348.8 L285.9,350.1 L286.2,347.1 L286.4,348.7 L286.7,350.3 L287.0,346.1 L287.2,345.2 L287.5,349.5 L287.7,350.4 L288.0,346.2 L288.3,352.0 L288.5,343.6 L288.8,349.1 L289.1,347.2 L289.3,352.0 L289.6,348.8 L289.9,346.7 L290.1,348.4 L290.4,349.8 L290.7,344.2 L290.9,347.0 L291.2,348.2 L291.5,349.4 L291.7,347.9 L292.0,345.5 L292.3,349.8 L292.5,349.2 L292.8,350.6 L293.1,348.2 L293.3,351.2 L293.6,349.3 L293.9,351.1 L294.1,352.9 L294.4,350.1 L294.7,348.4 L294.9,353.2 L295.2,348.8 L295.5,343.2 L295.7,350.5 L296.0,348.1 L296.3,350.8 L296.5,347.2 L296.8,349.2 L297.1,346.0 L297.3,347.1 L297.6,349.3 L297.9,344.6 L298.1,346.8 L298.4,348.2 L298.7,346.5 L298.9,348.3 L299.2,345.6 L299.5,346.7 L299.7,347.0 L300.0,345.4 L300.3,351.1 L300.5,344.8 L300.8,350.0 L301.1,344.0 L301.3,347.8 L301.6,349.3 L301.9,351.5 L302.1,349.8 L302.4,352.2 L302.7,353.1 L302.8,411.4 L302.9,408.6 L303.0,404.4 L303.2,401.4 L303.4,400.8 L303.7,400.5 L304.0,393.4 L304.2,395.7 L304.5,394.8 L304.8,395.6 L305.0,393.5 L305.3,388.0 L305.6,394.3 L305.8,391.6 L306.1,389.5 L306.4,388.7 L306.6,390.8 L306.9,390.3 L307.2,387.6 L307.4,386.6 L307.7,387.4 L308.0,388.0 L308.2,389.3 L308.5,388.0 L308.8,387.3 L309.0,390.6 L309.3,388.7 L309.6,386.3 L309.8,386.9 L310.1,389.5 L310.4,385.8 L310.6,384.6 L310.9,382.7 L311.2,390.6 L311.4,382.5 L311.7,384.7 L312.0,382.9 L312.2,380.8 L312.5,385.4 L312.8,384.6 L313.0,382.7 L313.3,381.4 L313.6,384.5 L313.8,386.0 L314.1,384.4 L314.4,381.0 L314.6,378.0 L314.9,381.9 L315.2,381.1 L315.4,380.5 L315.7,378.8 L316.0,380.5 L316.2,378.9 L316.5,377.3 L316.8,378.5 L317.0,378.7 L317.3,380.1 L317.6,379.0 L317.8,378.8 L318.1,374.0 L318.3,373.0 L318.6,375.2 L318.9,371.4 L319.1,374.8 L319.4,375.2 L319.7,376.8 L319.9,373.1 L320.2,374.8 L320.5,373.0 L320.7,372.2 L321.0,374.3 L321.3,376.3 L321.5,373.6 L321.8,373.7 L322.1,373.3 L322.3,371.9 L322.6,374.7 L322.9,375.8 L323.1,372.0 L323.4,372.3 L323.7,374.8 L323.9,375.9 L324.2,375.3 L324.5,373.3 L324.7,372.5 L325.0,368.5 L325.3,373.9 L325.5,373.4 L325.8,373.9 L326.1,372.5 L326.3,373.3 L326.6,375.3 L326.9,369.4 L327.1,370.3 L327.4,366.9 L327.7,370.5 L327.9,369.2 L328.2,368.7 L328.5,374.0 L328.7,372.7 L329.0,368.3 L329.3,369.4 L329.5,372.8 L329.8,371.1 L330.1,370.8 L330.3,369.0 L330.6,364.3 L330.9,368.4 L331.1,363.1 L331.4,368.4 L331.7,369.2 L331.9,363.4 L332.2,364.7 L332.5,363.2 L332.7,361.9 L333.0,363.3 L333.2,362.5 L333.5,367.4 L333.8,365.6 L334.0,362.5 L334.3,362.8 L334.6,361.9 L334.8,363.1 L335.1,359.8 L335.4,356.9 L335.6,359.6 L335.9,359.4 L336.1,275.7 L336.2,286.1 L336.2,292.8 L336.3,297.3 L336.4,304.8 L336.7,306.3 L337.0,312.9 L337.2,316.8 L337.5,314.7 L337.8,318.4 L338.0,321.1 L338.3,325.2 L338.6,322.9 L338.8,328.0 L339.1,333.2 L339.4,333.5 L339.6,334.1 L339.9,334.6 L340.2,334.6 L340.4,338.4 L340.7,339.1 L341.0,334.0 L341.2,338.4 L341.5,340.2 L341.8,339.7 L342.0,342.2 L342.3,339.0 L342.6,337.6 L342.8,341.3 L343.1,338.4 L343.4,340.5 L343.6,340.3 L343.9,342.8 L344.2,343.5 L344.4,347.2 L344.7,342.7 L345.0,344.0 L345.2,344.5 L345.5,346.6 L345.8,346.9 L346.0,346.4 L346.3,344.5 L346.6,345.9 L346.8,347.3 L347.1,345.1 L347.4,342.8 L347.6,347.3 L347.9,343.1 L348.2,345.4 L348.4,343.5 L348.7,346.3 L348.9,344.1 L349.2,348.3 L349.5,345.7 L349.7,345.5 L350.0,349.2 L350.3,348.7 L350.5,344.9 L350.8,345.9 L351.1,343.7 L351.3,346.5 L351.6,352.9 L351.9,347.4 L352.1,348.9 L352.4,348.7 L352.7,348.2 L352.9,349.2 L353.2,349.7 L353.5,345.6 L353.7,346.6 L354.0,348.6 L354.3,347.9 L354.5,345.4 L354.8,347.3 L355.1,347.7 L355.3,350.0 L355.6,349.1 L355.9,350.3 L356.1,352.2 L356.4,348.2 L356.7,350.6 L356.9,350.1 L357.2,351.7 L357.5,349.2 L357.7,346.0 L358.0,349.4 L358.3,349.0 L358.5,352.3 L358.8,349.5 L359.1,349.6 L359.3,347.2 L359.6,349.8 L359.9,351.9 L360.1,350.0 L360.4,350.7 L360.7,347.6 L360.9,349.0 L361.2,349.9 L361.5,348.9 L361.7,345.8 L362.0,350.1 L362.3,350.6 L362.5,351.8 L362.8,345.5 L363.1,346.7 L363.3,344.8 L363.6,348.0 L363.8,344.7 L364.1,348.2 L364.4,344.1 L364.6,347.9 L364.9,346.9 L365.2,347.9 L365.4,345.3 L365.7,345.6 L366.0,344.7 L366.2,347.7 L366.5,349.0 L366.8,345.3 L367.0,343.9 L367.3,345.1 L367.6,347.8 L367.8,347.7 L368.1,352.5 L368.4,351.4 L368.6,349.5 L368.9,351.7 L369.2,355.5 L369.4,415.9 L369.4,412.4 L369.6,407.0 L369.7,404.9 L370.0,397.2 L370.2,393.7 L370.5,394.6 L370.8,395.3 L371.0,392.6 L371.3,396.8 L371.6,395.2 L371.8,392.5 L372.1,390.9 L372.4,390.8 L372.6,390.0 L372.9,391.2 L373.2,390.5 L373.4,388.1 L373.7,391.6 L374.0,390.7 L374.2,388.9 L374.5,385.2 L374.8,386.5 L375.0,385.0 L375.3,384.5 L375.6,388.3 L375.8,387.9 L376.1,390.0 L376.4,384.8 L376.6,385.4 L376.9,385.1 L377.2,384.2 L377.4,383.9 L377.7,383.6 L378.0,382.8 L378.2,379.8 L378.5,384.4 L378.7,384.1 L379.0,382.0 L379.3,378.6 L379.5,381.4 L379.8,383.0 L380.1,380.6 L380.3,382.5 L380.6,390.0 L380.9,384.0 L381.1,386.2 L381.4,382.7 L381.7,382.8 L381.9,380.3 L382.2,375.9 L382.5,382.3 L382.7,379.8 L383.0,379.9 L383.3,391.3 L383.5,380.1 L383.8,379.6 L384.1,377.0 L384.3,379.8 L384.6,381.4 L384.9,377.2 L385.1,378.2 L385.4,379.4 L385.7,379.0 L385.9,377.2" fill="none" stroke="#111" stroke-width="1.1" stroke-linejoin="round"/>
<text x="140.0" y="270.8" font-size="14.8" text-anchor="start" fill="#222" font-weight="normal" >Bright</text>
<text x="172.0" y="415.6" font-size="14.8" text-anchor="start" fill="#222" font-weight="normal" >Dark</text>
<rect x="474.8" y="252.6" width="209.40000000000003" height="176.00000000000003" fill="none" stroke="#3c3c3c" stroke-width="1.1"/>
<line x1="471.10" y1="413.60" x2="474.80" y2="413.60" stroke="#3c3c3c" stroke-width="1" />
<text x="446.34" y="418.70" font-size="14.5" fill="#222">0.6</text>
<line x1="472.90" y1="398.96" x2="474.80" y2="398.96" stroke="#3c3c3c" stroke-width="1" />
<line x1="471.10" y1="384.32" x2="474.80" y2="384.32" stroke="#3c3c3c" stroke-width="1" />
<text x="446.34" y="389.42" font-size="14.5" fill="#222">0.8</text>
<line x1="472.90" y1="369.68" x2="474.80" y2="369.68" stroke="#3c3c3c" stroke-width="1" />
<line x1="471.10" y1="355.04" x2="474.80" y2="355.04" stroke="#3c3c3c" stroke-width="1" />
<text x="446.34" y="360.14" font-size="14.5" fill="#222">&#8199;.0</text>
<path d="M763,0H583V1100Q518,1040 412,980Q307,920 223,890V1060Q374,1128 487,1225Q600,1322 647,1409H763Z" fill="#222" transform="translate(446.34,360.14) scale(0.007080,-0.007080)"/>
<line x1="472.90" y1="340.40" x2="474.80" y2="340.40" stroke="#3c3c3c" stroke-width="1" />
<line x1="471.10" y1="325.76" x2="474.80" y2="325.76" stroke="#3c3c3c" stroke-width="1" />
<text x="446.34" y="330.86" font-size="14.5" fill="#222">&#8199;.2</text>
<path d="M763,0H583V1100Q518,1040 412,980Q307,920 223,890V1060Q374,1128 487,1225Q600,1322 647,1409H763Z" fill="#222" transform="translate(446.34,330.86) scale(0.007080,-0.007080)"/>
<line x1="472.90" y1="311.12" x2="474.80" y2="311.12" stroke="#3c3c3c" stroke-width="1" />
<line x1="471.10" y1="296.48" x2="474.80" y2="296.48" stroke="#3c3c3c" stroke-width="1" />
<text x="446.34" y="301.58" font-size="14.5" fill="#222">&#8199;.4</text>
<path d="M763,0H583V1100Q518,1040 412,980Q307,920 223,890V1060Q374,1128 487,1225Q600,1322 647,1409H763Z" fill="#222" transform="translate(446.34,301.58) scale(0.007080,-0.007080)"/>
<line x1="472.90" y1="281.84" x2="474.80" y2="281.84" stroke="#3c3c3c" stroke-width="1" />
<line x1="471.10" y1="267.20" x2="474.80" y2="267.20" stroke="#3c3c3c" stroke-width="1" />
<text x="446.34" y="272.30" font-size="14.5" fill="#222">&#8199;.6</text>
<path d="M763,0H583V1100Q518,1040 412,980Q307,920 223,890V1060Q374,1128 487,1225Q600,1322 647,1409H763Z" fill="#222" transform="translate(446.34,272.30) scale(0.007080,-0.007080)"/>
<line x1="474.84" y1="428.60" x2="474.84" y2="430.50" stroke="#3c3c3c" stroke-width="1" />
<line x1="492.30" y1="428.60" x2="492.30" y2="432.30" stroke="#3c3c3c" stroke-width="1" />
<text x="488.27" y="447.00" font-size="14.5" fill="#222">&#8199;</text>
<path d="M763,0H583V1100Q518,1040 412,980Q307,920 223,890V1060Q374,1128 487,1225Q600,1322 647,1409H763Z" fill="#222" transform="translate(488.27,447.00) scale(0.007080,-0.007080)"/>
<line x1="509.76" y1="428.60" x2="509.76" y2="430.50" stroke="#3c3c3c" stroke-width="1" />
<line x1="527.22" y1="428.60" x2="527.22" y2="432.30" stroke="#3c3c3c" stroke-width="1" />
<text x="523.19" y="447.00" font-size="14.5" fill="#222">2</text>
<line x1="544.68" y1="428.60" x2="544.68" y2="430.50" stroke="#3c3c3c" stroke-width="1" />
<line x1="562.14" y1="428.60" x2="562.14" y2="432.30" stroke="#3c3c3c" stroke-width="1" />
<text x="558.11" y="447.00" font-size="14.5" fill="#222">3</text>
<line x1="579.60" y1="428.60" x2="579.60" y2="430.50" stroke="#3c3c3c" stroke-width="1" />
<line x1="597.06" y1="428.60" x2="597.06" y2="432.30" stroke="#3c3c3c" stroke-width="1" />
<text x="593.03" y="447.00" font-size="14.5" fill="#222">4</text>
<line x1="614.52" y1="428.60" x2="614.52" y2="430.50" stroke="#3c3c3c" stroke-width="1" />
<line x1="631.98" y1="428.60" x2="631.98" y2="432.30" stroke="#3c3c3c" stroke-width="1" />
<text x="627.95" y="447.00" font-size="14.5" fill="#222">5</text>
<line x1="649.44" y1="428.60" x2="649.44" y2="430.50" stroke="#3c3c3c" stroke-width="1" />
<line x1="666.90" y1="428.60" x2="666.90" y2="432.30" stroke="#3c3c3c" stroke-width="1" />
<text x="662.87" y="447.00" font-size="14.5" fill="#222">6</text>
<line x1="684.36" y1="428.60" x2="684.36" y2="430.50" stroke="#3c3c3c" stroke-width="1" />
<text transform="translate(440.3,344.2) rotate(-90)" font-size="15" text-anchor="middle" fill="#222">Intensity (X100%)</text>
<text x="586.7" y="464.0" font-size="14.8" text-anchor="middle" fill="#222" font-weight="normal" >Position#</text>
<line x1="492.30" y1="261.40" x2="492.30" y2="274.00" stroke="#8a8a8a" stroke-width="1" />
<line x1="489.30" y1="261.40" x2="495.30" y2="261.40" stroke="#8a8a8a" stroke-width="1" />
<line x1="489.30" y1="274.00" x2="495.30" y2="274.00" stroke="#8a8a8a" stroke-width="1" />
<polygon points="492.3,264.1 496.2,268 492.3,271.9 488.40000000000003,268" fill="#505050"/>
<line x1="527.22" y1="274.00" x2="527.22" y2="283.00" stroke="#8a8a8a" stroke-width="1" />
<line x1="524.22" y1="274.00" x2="530.22" y2="274.00" stroke="#8a8a8a" stroke-width="1" />
<line x1="524.22" y1="283.00" x2="530.22" y2="283.00" stroke="#8a8a8a" stroke-width="1" />
<polygon points="527.22,274.5 531.12,278.4 527.22,282.29999999999995 523.32,278.4" fill="#505050"/>
<line x1="562.14" y1="294.30" x2="562.14" y2="299.70" stroke="#8a8a8a" stroke-width="1" />
<line x1="559.14" y1="294.30" x2="565.14" y2="294.30" stroke="#8a8a8a" stroke-width="1" />
<line x1="559.14" y1="299.70" x2="565.14" y2="299.70" stroke="#8a8a8a" stroke-width="1" />
<polygon points="562.14,293.1 566.04,297 562.14,300.9 558.24,297" fill="#505050"/>
<polygon points="597.0600000000001,324.8 600.96,328.7 597.0600000000001,332.59999999999997 593.1600000000001,328.7" fill="#505050"/>
<line x1="631.98" y1="321.20" x2="631.98" y2="332.30" stroke="#8a8a8a" stroke-width="1" />
<line x1="628.98" y1="321.20" x2="634.98" y2="321.20" stroke="#8a8a8a" stroke-width="1" />
<line x1="628.98" y1="332.30" x2="634.98" y2="332.30" stroke="#8a8a8a" stroke-width="1" />
<polygon points="631.98,323.0 635.88,326.9 631.98,330.79999999999995 628.08,326.9" fill="#505050"/>
<line x1="666.90" y1="324.30" x2="666.90" y2="328.30" stroke="#8a8a8a" stroke-width="1" />
<line x1="663.90" y1="324.30" x2="669.90" y2="324.30" stroke="#8a8a8a" stroke-width="1" />
<line x1="663.90" y1="328.30" x2="669.90" y2="328.30" stroke="#8a8a8a" stroke-width="1" />
<polygon points="666.9000000000001,322.40000000000003 670.8000000000001,326.3 666.9000000000001,330.2 663.0000000000001,326.3" fill="#505050"/>
<line x1="492.30" y1="408.60" x2="492.30" y2="417.60" stroke="#ec7a80" stroke-width="1" />
<line x1="489.30" y1="408.60" x2="495.30" y2="408.60" stroke="#ec7a80" stroke-width="1" />
<line x1="489.30" y1="417.60" x2="495.30" y2="417.60" stroke="#ec7a80" stroke-width="1" />
<circle cx="492.3" cy="413.4" r="3.2" fill="#e4414c"/>
<line x1="527.22" y1="410.50" x2="527.22" y2="418.90" stroke="#ec7a80" stroke-width="1" />
<line x1="524.22" y1="410.50" x2="530.22" y2="410.50" stroke="#ec7a80" stroke-width="1" />
<line x1="524.22" y1="418.90" x2="530.22" y2="418.90" stroke="#ec7a80" stroke-width="1" />
<circle cx="527.22" cy="414.9" r="3.2" fill="#e4414c"/>
<line x1="562.14" y1="399.70" x2="562.14" y2="409.20" stroke="#ec7a80" stroke-width="1" />
<line x1="559.14" y1="399.70" x2="565.14" y2="399.70" stroke="#ec7a80" stroke-width="1" />
<line x1="559.14" y1="409.20" x2="565.14" y2="409.20" stroke="#ec7a80" stroke-width="1" />
<circle cx="562.14" cy="404.4" r="3.2" fill="#e4414c"/>
<line x1="597.06" y1="384.70" x2="597.06" y2="393.70" stroke="#ec7a80" stroke-width="1" />
<line x1="594.06" y1="384.70" x2="600.06" y2="384.70" stroke="#ec7a80" stroke-width="1" />
<line x1="594.06" y1="393.70" x2="600.06" y2="393.70" stroke="#ec7a80" stroke-width="1" />
<circle cx="597.0600000000001" cy="389.2" r="3.2" fill="#e4414c"/>
<line x1="631.98" y1="387.70" x2="631.98" y2="395.50" stroke="#ec7a80" stroke-width="1" />
<line x1="628.98" y1="387.70" x2="634.98" y2="387.70" stroke="#ec7a80" stroke-width="1" />
<line x1="628.98" y1="395.50" x2="634.98" y2="395.50" stroke="#ec7a80" stroke-width="1" />
<circle cx="631.98" cy="391.6" r="3.2" fill="#e4414c"/>
<line x1="666.90" y1="406.20" x2="666.90" y2="414.60" stroke="#ec7a80" stroke-width="1" />
<line x1="663.90" y1="406.20" x2="669.90" y2="406.20" stroke="#ec7a80" stroke-width="1" />
<line x1="663.90" y1="414.60" x2="669.90" y2="414.60" stroke="#ec7a80" stroke-width="1" />
<circle cx="666.9000000000001" cy="410.4" r="3.2" fill="#e4414c"/>
<polygon points="598.8,264.6 602.6999999999999,268.5 598.8,272.4 594.9,268.5" fill="#505050"/>
<circle cx="598.8" cy="283.1" r="3.2" fill="#e4414c"/>
<text x="612.4" y="273.2" font-size="14.9" text-anchor="start" fill="#222" font-weight="normal" >Bright</text>
<text x="612.4" y="288.2" font-size="14.9" text-anchor="start" fill="#222" font-weight="normal" >Dark</text>
<rect x="54.4" y="490.5" width="146.0" height="175.89999999999998" fill="none" stroke="#3c3c3c" stroke-width="1.1"/>
<line x1="53.10" y1="666.68" x2="54.40" y2="666.68" stroke="#3c3c3c" stroke-width="1" />
<line x1="51.50" y1="649.10" x2="54.40" y2="649.10" stroke="#3c3c3c" stroke-width="1" />
<text x="42.84" y="653.10" font-size="14.5" fill="#222">0</text>
<line x1="53.10" y1="631.52" x2="54.40" y2="631.52" stroke="#3c3c3c" stroke-width="1" />
<line x1="51.50" y1="613.95" x2="54.40" y2="613.95" stroke="#3c3c3c" stroke-width="1" />
<text x="26.71" y="617.95" font-size="14.5" fill="#222">200</text>
<line x1="53.10" y1="596.38" x2="54.40" y2="596.38" stroke="#3c3c3c" stroke-width="1" />
<line x1="51.50" y1="578.80" x2="54.40" y2="578.80" stroke="#3c3c3c" stroke-width="1" />
<text x="26.71" y="582.80" font-size="14.5" fill="#222">400</text>
<line x1="53.10" y1="561.23" x2="54.40" y2="561.23" stroke="#3c3c3c" stroke-width="1" />
<line x1="51.50" y1="543.65" x2="54.40" y2="543.65" stroke="#3c3c3c" stroke-width="1" />
<text x="26.71" y="547.65" font-size="14.5" fill="#222">600</text>
<line x1="53.10" y1="526.08" x2="54.40" y2="526.08" stroke="#3c3c3c" stroke-width="1" />
<line x1="51.50" y1="508.50" x2="54.40" y2="508.50" stroke="#3c3c3c" stroke-width="1" />
<text x="26.71" y="512.50" font-size="14.5" fill="#222">800</text>
<line x1="54.40" y1="666.40" x2="54.40" y2="669.60" stroke="#3c3c3c" stroke-width="1" />
<text x="42.30" y="683.30" font-size="14.5" fill="#222">580</text>
<line x1="75.26" y1="666.40" x2="75.26" y2="668.20" stroke="#3c3c3c" stroke-width="1" />
<line x1="96.11" y1="666.40" x2="96.11" y2="669.60" stroke="#3c3c3c" stroke-width="1" />
<text x="84.02" y="683.30" font-size="14.5" fill="#222">600</text>
<line x1="116.97" y1="666.40" x2="116.97" y2="668.20" stroke="#3c3c3c" stroke-width="1" />
<line x1="137.83" y1="666.40" x2="137.83" y2="669.60" stroke="#3c3c3c" stroke-width="1" />
<text x="125.73" y="683.30" font-size="14.5" fill="#222">620</text>
<line x1="158.69" y1="666.40" x2="158.69" y2="668.20" stroke="#3c3c3c" stroke-width="1" />
<line x1="179.54" y1="666.40" x2="179.54" y2="669.60" stroke="#3c3c3c" stroke-width="1" />
<text x="167.45" y="683.30" font-size="14.5" fill="#222">640</text>
<line x1="200.40" y1="666.40" x2="200.40" y2="668.20" stroke="#3c3c3c" stroke-width="1" />
<text x="126.1" y="702.5" font-size="14.7" text-anchor="middle" fill="#222" font-weight="normal" >Wavelength (nm)</text>
<text x="65.3" y="510.8" font-size="14.8" text-anchor="start" fill="#222" font-weight="normal" >Bright</text>
<clipPath id="cel"><rect x="54.4" y="490.5" width="146.0" height="175.89999999999998"/></clipPath>
<g clip-path="url(#cel)">
<path d="M54.4,648.8 L54.7,649.7 L55.0,648.5 L55.3,649.5 L55.7,649.1 L56.0,648.4 L56.3,648.1 L56.6,649.3 L56.9,649.3 L57.2,648.1 L57.5,650.8 L57.8,647.8 L58.2,647.8 L58.5,649.4 L58.8,647.8 L59.1,648.4 L59.4,648.3 L59.7,650.2 L60.0,648.9 L60.4,648.6 L60.7,648.8 L61.0,648.7 L61.3,648.6 L61.6,650.4 L61.9,648.5 L62.2,648.8 L62.5,648.3 L62.9,648.6 L63.2,648.2 L63.5,648.0 L63.8,646.9 L64.1,648.7 L64.4,646.9 L64.7,648.2 L65.1,648.6 L65.4,649.0 L65.7,647.3 L66.0,648.9 L66.3,647.2 L66.6,647.6 L66.9,648.1 L67.2,648.2 L67.6,647.3 L67.9,647.5 L68.2,647.1 L68.5,647.5 L68.8,647.8 L69.1,647.1 L69.4,648.2 L69.8,646.8 L70.1,647.3 L70.4,648.0 L70.7,647.9 L71.0,647.4 L71.3,648.4 L71.6,646.1 L71.9,646.3 L72.3,647.7 L72.6,647.0 L72.9,645.7 L73.2,646.5 L73.5,647.4 L73.8,648.2 L74.1,647.8 L74.5,645.7 L74.8,646.3 L75.1,647.3 L75.4,645.9 L75.7,646.6 L76.0,646.7 L76.3,646.6 L76.6,646.4 L77.0,644.9 L77.3,646.6 L77.6,646.2 L77.9,644.9 L78.2,644.7 L78.5,646.4 L78.8,644.2 L79.2,644.8 L79.5,646.5 L79.8,644.2 L80.1,646.4 L80.4,644.8 L80.7,646.0 L81.0,646.3 L81.3,644.4 L81.7,644.6 L82.0,644.9 L82.3,644.6 L82.6,644.7 L82.9,644.7 L83.2,645.2 L83.5,644.0 L83.9,644.3 L84.2,644.3 L84.5,644.5 L84.8,644.2 L85.1,644.9 L85.4,644.0 L85.7,644.3 L86.0,642.6 L86.4,644.1 L86.7,643.6 L87.0,643.2 L87.3,642.5 L87.6,642.6 L87.9,642.8 L88.2,641.2 L88.6,642.6 L88.9,642.2 L89.2,640.4 L89.5,642.8 L89.8,641.4 L90.1,641.6 L90.4,642.7 L90.7,642.0 L91.1,640.9 L91.4,642.3 L91.7,641.3 L92.0,640.3 L92.3,641.0 L92.6,640.4 L92.9,640.9 L93.2,640.7 L93.6,640.5 L93.9,640.2 L94.2,639.3 L94.5,639.5 L94.8,638.0 L95.1,638.7 L95.4,638.7 L95.8,637.1 L96.1,638.6 L96.4,638.8 L96.7,637.9 L97.0,638.6 L97.3,637.2 L97.6,636.4 L97.9,636.6 L98.3,637.1 L98.6,636.6 L98.9,635.9 L99.2,635.2 L99.5,636.0 L99.8,635.7 L100.1,634.3 L100.5,634.6 L100.8,634.2 L101.1,633.8 L101.4,634.3 L101.7,633.6 L102.0,632.4 L102.3,632.9 L102.6,632.5 L103.0,631.8 L103.3,631.3 L103.6,629.4 L103.9,631.3 L104.2,630.2 L104.5,628.5 L104.8,629.4 L105.2,628.7 L105.5,629.5 L105.8,627.3 L106.1,626.8 L106.4,626.3 L106.7,626.5 L107.0,625.5 L107.3,625.2 L107.7,624.0 L108.0,624.0 L108.3,622.7 L108.6,623.6 L108.9,622.2 L109.2,623.2 L109.5,620.6 L109.9,619.2 L110.2,619.1 L110.5,616.5 L110.8,618.0 L111.1,616.6 L111.4,616.1 L111.7,614.9 L112.0,613.9 L112.4,613.6 L112.7,612.2 L113.0,609.0 L113.3,609.5 L113.6,607.5 L113.9,607.8 L114.2,605.8 L114.6,604.0 L114.9,603.1 L115.2,602.0 L115.5,600.3 L115.8,598.7 L116.1,596.5 L116.4,594.7 L116.7,594.7 L117.1,595.3 L117.4,592.2 L117.7,590.2 L118.0,587.8 L118.3,585.5 L118.6,584.7 L118.9,580.6 L119.3,579.7 L119.6,578.8 L119.9,574.6 L120.2,572.7 L120.5,570.2 L120.8,569.0 L121.1,565.5 L121.4,562.5 L121.8,560.0 L122.1,556.7 L122.4,553.5 L122.7,550.5 L123.0,547.9 L123.3,546.0 L123.6,541.9 L124.0,540.1 L124.3,536.8 L124.6,534.9 L124.9,533.0 L125.2,531.0 L125.5,526.8 L125.8,525.0 L126.1,522.3 L126.5,519.6 L126.8,519.4 L127.1,517.9 L127.4,515.0 L127.7,513.6 L128.0,513.1 L128.3,512.5 L128.7,512.7 L129.0,511.4 L129.3,511.9 L129.6,511.3 L129.9,511.5 L130.2,513.3 L130.5,513.6 L130.8,515.0 L131.2,516.0 L131.5,517.0 L131.8,519.4 L132.1,521.2 L132.4,523.2 L132.7,526.1 L133.0,528.0 L133.4,530.0 L133.7,531.7 L134.0,534.0 L134.3,535.7 L134.6,540.4 L134.9,542.1 L135.2,545.6 L135.5,547.1 L135.9,550.1 L136.2,550.4 L136.5,552.9 L136.8,556.4 L137.1,557.5 L137.4,559.3 L137.7,560.5 L138.1,563.1 L138.4,565.5 L138.7,567.4 L139.0,568.7 L139.3,570.6 L139.6,572.8 L139.9,574.9 L140.2,574.8 L140.6,577.5 L140.9,578.6 L141.2,579.3 L141.5,581.2 L141.8,581.7 L142.1,582.8 L142.4,582.7 L142.8,585.3 L143.1,586.6 L143.4,587.4 L143.7,587.7 L144.0,589.3 L144.3,590.9 L144.6,590.1 L144.9,592.6 L145.3,593.0 L145.6,593.6 L145.9,595.1 L146.2,595.4 L146.5,596.1 L146.8,597.5 L147.1,597.6 L147.5,599.6 L147.8,600.8 L148.1,600.7 L148.4,602.3 L148.7,602.2 L149.0,603.3 L149.3,604.4 L149.6,604.4 L150.0,605.2 L150.3,608.4 L150.6,607.3 L150.9,607.7 L151.2,608.2 L151.5,609.6 L151.8,610.7 L152.2,610.5 L152.5,610.8 L152.8,613.4 L153.1,613.7 L153.4,613.7 L153.7,615.7 L154.0,615.0 L154.3,614.6 L154.7,616.5 L155.0,616.3 L155.3,617.6 L155.6,617.3 L155.9,617.7 L156.2,617.8 L156.5,619.2 L156.9,619.1 L157.2,620.1 L157.5,621.3 L157.8,620.4 L158.1,622.4 L158.4,622.3 L158.7,621.2 L159.0,622.8 L159.4,624.5 L159.7,624.2 L160.0,625.2 L160.3,625.4 L160.6,626.8 L160.9,626.0 L161.2,627.7 L161.6,626.8 L161.9,627.2 L162.2,627.2 L162.5,626.7 L162.8,629.8 L163.1,629.8 L163.4,630.1 L163.7,630.1 L164.1,629.5 L164.4,630.7 L164.7,631.2 L165.0,631.9 L165.3,631.9 L165.6,632.1 L165.9,632.2 L166.2,633.4 L166.6,632.8 L166.9,632.6 L167.2,633.1 L167.5,634.5 L167.8,633.3 L168.1,633.6 L168.4,634.2 L168.8,635.5 L169.1,636.0 L169.4,635.2 L169.7,636.2 L170.0,636.6 L170.3,635.3 L170.6,635.5 L170.9,635.9 L171.3,635.7 L171.6,636.2 L171.9,637.9 L172.2,636.5 L172.5,637.4 L172.8,637.4 L173.1,636.8 L173.5,637.8 L173.8,637.2 L174.1,638.4 L174.4,638.9 L174.7,639.3 L175.0,639.1 L175.3,640.4 L175.6,639.4 L176.0,639.6 L176.3,640.0 L176.6,641.4 L176.9,641.5 L177.2,639.7 L177.5,641.0 L177.8,639.5 L178.2,641.1 L178.5,640.5 L178.8,641.9 L179.1,641.5 L179.4,641.3 L179.7,640.9 L180.0,640.2 L180.3,640.9 L180.7,642.7 L181.0,641.8 L181.3,642.1 L181.6,642.5 L181.9,641.8 L182.2,641.2 L182.5,642.7 L182.9,641.7 L183.2,641.6 L183.5,643.5 L183.8,641.6 L184.1,641.8 L184.4,642.8 L184.7,641.9 L185.0,643.1 L185.4,642.5 L185.7,643.0 L186.0,644.1 L186.3,643.4 L186.6,643.8 L186.9,644.2 L187.2,644.7 L187.6,644.5 L187.9,644.9 L188.2,643.4 L188.5,645.6 L188.8,644.3 L189.1,644.8 L189.4,645.4 L189.7,644.0 L190.1,645.2 L190.4,643.9 L190.7,644.9 L191.0,644.6 L191.3,645.0 L191.6,644.5 L191.9,644.4 L192.3,645.5 L192.6,645.2 L192.9,644.0 L193.2,645.7 L193.5,644.1 L193.8,645.7 L194.1,645.9 L194.4,646.8 L194.8,646.2 L195.1,646.9 L195.4,646.2 L195.7,645.3 L196.0,645.9 L196.3,646.4 L196.6,646.7 L197.0,646.5 L197.3,647.1 L197.6,647.1 L197.9,644.8 L198.2,646.1 L198.5,647.0 L198.8,645.9 L199.1,645.4 L199.5,646.9 L199.8,646.6 L200.1,647.4 L200.4,647.7" fill="none" stroke="#bdbdbd" stroke-width="2.2" stroke-linejoin="round" />
<path d="M54.4,650.1 L54.7,650.1 L55.0,650.1 L55.3,650.0 L55.7,650.0 L56.0,650.0 L56.3,650.0 L56.6,649.9 L56.9,649.9 L57.2,649.9 L57.5,649.8 L57.8,649.8 L58.2,649.8 L58.5,649.8 L58.8,649.7 L59.1,649.7 L59.4,649.7 L59.7,649.6 L60.0,649.6 L60.4,649.6 L60.7,649.5 L61.0,649.5 L61.3,649.5 L61.6,649.4 L61.9,649.4 L62.2,649.4 L62.5,649.3 L62.9,649.3 L63.2,649.3 L63.5,649.2 L63.8,649.2 L64.1,649.2 L64.4,649.1 L64.7,649.1 L65.1,649.1 L65.4,649.0 L65.7,649.0 L66.0,648.9 L66.3,648.9 L66.6,648.9 L66.9,648.8 L67.2,648.8 L67.6,648.7 L67.9,648.7 L68.2,648.6 L68.5,648.6 L68.8,648.6 L69.1,648.5 L69.4,648.5 L69.8,648.4 L70.1,648.4 L70.4,648.3 L70.7,648.3 L71.0,648.2 L71.3,648.2 L71.6,648.1 L71.9,648.1 L72.3,648.0 L72.6,648.0 L72.9,647.9 L73.2,647.8 L73.5,647.8 L73.8,647.7 L74.1,647.7 L74.5,647.6 L74.8,647.6 L75.1,647.5 L75.4,647.4 L75.7,647.4 L76.0,647.3 L76.3,647.2 L76.6,647.2 L77.0,647.1 L77.3,647.0 L77.6,647.0 L77.9,646.9 L78.2,646.8 L78.5,646.8 L78.8,646.7 L79.2,646.6 L79.5,646.5 L79.8,646.5 L80.1,646.4 L80.4,646.3 L80.7,646.2 L81.0,646.1 L81.3,646.1 L81.7,646.0 L82.0,645.9 L82.3,645.8 L82.6,645.7 L82.9,645.6 L83.2,645.5 L83.5,645.4 L83.9,645.3 L84.2,645.2 L84.5,645.1 L84.8,645.0 L85.1,644.9 L85.4,644.8 L85.7,644.7 L86.0,644.6 L86.4,644.5 L86.7,644.4 L87.0,644.3 L87.3,644.1 L87.6,644.0 L87.9,643.9 L88.2,643.8 L88.6,643.6 L88.9,643.5 L89.2,643.4 L89.5,643.2 L89.8,643.1 L90.1,642.9 L90.4,642.8 L90.7,642.6 L91.1,642.5 L91.4,642.3 L91.7,642.2 L92.0,642.0 L92.3,641.9 L92.6,641.7 L92.9,641.5 L93.2,641.3 L93.6,641.1 L93.9,641.0 L94.2,640.8 L94.5,640.6 L94.8,640.4 L95.1,640.2 L95.4,640.0 L95.8,639.8 L96.1,639.5 L96.4,639.3 L96.7,639.1 L97.0,638.9 L97.3,638.6 L97.6,638.4 L97.9,638.1 L98.3,637.9 L98.6,637.6 L98.9,637.3 L99.2,637.0 L99.5,636.8 L99.8,636.5 L100.1,636.2 L100.5,635.8 L100.8,635.5 L101.1,635.2 L101.4,634.9 L101.7,634.5 L102.0,634.2 L102.3,633.8 L102.6,633.4 L103.0,633.0 L103.3,632.6 L103.6,632.2 L103.9,631.8 L104.2,631.4 L104.5,630.9 L104.8,630.5 L105.2,630.0 L105.5,629.5 L105.8,629.0 L106.1,628.5 L106.4,627.9 L106.7,627.4 L107.0,626.8 L107.3,626.2 L107.7,625.6 L108.0,625.0 L108.3,624.4 L108.6,623.7 L108.9,623.0 L109.2,622.3 L109.5,621.5 L109.9,620.8 L110.2,620.0 L110.5,619.2 L110.8,618.3 L111.1,617.4 L111.4,616.5 L111.7,615.6 L112.0,614.6 L112.4,613.6 L112.7,612.6 L113.0,611.5 L113.3,610.4 L113.6,609.2 L113.9,608.0 L114.2,606.7 L114.6,605.4 L114.9,604.1 L115.2,602.7 L115.5,601.2 L115.8,599.7 L116.1,598.2 L116.4,596.6 L116.7,594.9 L117.1,593.1 L117.4,591.3 L117.7,589.5 L118.0,587.6 L118.3,585.6 L118.6,583.5 L118.9,581.4 L119.3,579.2 L119.6,576.9 L119.9,574.6 L120.2,572.2 L120.5,569.7 L120.8,567.2 L121.1,564.6 L121.4,561.9 L121.8,559.2 L122.1,556.5 L122.4,553.7 L122.7,550.9 L123.0,548.1 L123.3,545.2 L123.6,542.4 L124.0,539.5 L124.3,536.7 L124.6,534.0 L124.9,531.3 L125.2,528.7 L125.5,526.2 L125.8,523.8 L126.1,521.6 L126.5,519.5 L126.8,517.6 L127.1,515.9 L127.4,514.4 L127.7,513.2 L128.0,512.2 L128.3,511.4 L128.7,510.9 L129.0,510.7 L129.3,510.7 L129.6,510.9 L129.9,511.5 L130.2,512.2 L130.5,513.2 L130.8,514.4 L131.2,515.8 L131.5,517.4 L131.8,519.1 L132.1,521.0 L132.4,523.0 L132.7,525.1 L133.0,527.3 L133.4,529.6 L133.7,531.9 L134.0,534.2 L134.3,536.6 L134.6,539.0 L134.9,541.3 L135.2,543.7 L135.5,546.0 L135.9,548.3 L136.2,550.6 L136.5,552.8 L136.8,554.9 L137.1,557.0 L137.4,559.1 L137.7,561.1 L138.1,563.0 L138.4,564.9 L138.7,566.7 L139.0,568.5 L139.3,570.2 L139.6,571.8 L139.9,573.4 L140.2,575.0 L140.6,576.5 L140.9,577.9 L141.2,579.3 L141.5,580.7 L141.8,582.0 L142.1,583.2 L142.4,584.5 L142.8,585.7 L143.1,586.9 L143.4,588.0 L143.7,589.1 L144.0,590.2 L144.3,591.2 L144.6,592.3 L144.9,593.3 L145.3,594.2 L145.6,595.2 L145.9,596.1 L146.2,597.1 L146.5,598.0 L146.8,598.9 L147.1,599.7 L147.5,600.6 L147.8,601.5 L148.1,602.3 L148.4,603.1 L148.7,603.9 L149.0,604.7 L149.3,605.5 L149.6,606.3 L150.0,607.1 L150.3,607.8 L150.6,608.6 L150.9,609.3 L151.2,610.0 L151.5,610.7 L151.8,611.4 L152.2,612.1 L152.5,612.8 L152.8,613.5 L153.1,614.2 L153.4,614.8 L153.7,615.5 L154.0,616.1 L154.3,616.8 L154.7,617.4 L155.0,618.0 L155.3,618.6 L155.6,619.2 L155.9,619.8 L156.2,620.3 L156.5,620.9 L156.9,621.4 L157.2,622.0 L157.5,622.5 L157.8,623.1 L158.1,623.6 L158.4,624.1 L158.7,624.6 L159.0,625.1 L159.4,625.6 L159.7,626.0 L160.0,626.5 L160.3,626.9 L160.6,627.4 L160.9,627.8 L161.2,628.3 L161.6,628.7 L161.9,629.1 L162.2,629.5 L162.5,629.9 L162.8,630.3 L163.1,630.7 L163.4,631.0 L163.7,631.4 L164.1,631.8 L164.4,632.1 L164.7,632.5 L165.0,632.8 L165.3,633.1 L165.6,633.5 L165.9,633.8 L166.2,634.1 L166.6,634.4 L166.9,634.7 L167.2,635.0 L167.5,635.3 L167.8,635.6 L168.1,635.8 L168.4,636.1 L168.8,636.4 L169.1,636.6 L169.4,636.9 L169.7,637.1 L170.0,637.4 L170.3,637.6 L170.6,637.9 L170.9,638.1 L171.3,638.3 L171.6,638.5 L171.9,638.8 L172.2,639.0 L172.5,639.2 L172.8,639.4 L173.1,639.6 L173.5,639.8 L173.8,640.0 L174.1,640.2 L174.4,640.4 L174.7,640.5 L175.0,640.7 L175.3,640.9 L175.6,641.1 L176.0,641.2 L176.3,641.4 L176.6,641.6 L176.9,641.7 L177.2,641.9 L177.5,642.0 L177.8,642.2 L178.2,642.3 L178.5,642.5 L178.8,642.6 L179.1,642.8 L179.4,642.9 L179.7,643.0 L180.0,643.2 L180.3,643.3 L180.7,643.4 L181.0,643.5 L181.3,643.7 L181.6,643.8 L181.9,643.9 L182.2,644.0 L182.5,644.1 L182.9,644.3 L183.2,644.4 L183.5,644.5 L183.8,644.6 L184.1,644.7 L184.4,644.8 L184.7,644.9 L185.0,645.0 L185.4,645.1 L185.7,645.2 L186.0,645.3 L186.3,645.4 L186.6,645.5 L186.9,645.6 L187.2,645.6 L187.6,645.7 L187.9,645.8 L188.2,645.9 L188.5,646.0 L188.8,646.1 L189.1,646.1 L189.4,646.2 L189.7,646.3 L190.1,646.4 L190.4,646.5 L190.7,646.5 L191.0,646.6 L191.3,646.7 L191.6,646.7 L191.9,646.8 L192.3,646.9 L192.6,647.0 L192.9,647.0 L193.2,647.1 L193.5,647.2 L193.8,647.2 L194.1,647.3 L194.4,647.3 L194.8,647.4 L195.1,647.5 L195.4,647.5 L195.7,647.6 L196.0,647.6 L196.3,647.7 L196.6,647.8 L197.0,647.8 L197.3,647.9 L197.6,647.9 L197.9,648.0 L198.2,648.0 L198.5,648.1 L198.8,648.1 L199.1,648.2 L199.5,648.2 L199.8,648.3 L200.1,648.3 L200.4,648.4" fill="none" stroke="#1e1e1e" stroke-width="1.25" stroke-linejoin="round" />
<path d="M54.4,651.2 L54.7,651.2 L55.0,651.2 L55.3,651.2 L55.7,651.2 L56.0,651.2 L56.3,651.1 L56.6,651.1 L56.9,651.1 L57.2,651.1 L57.5,651.1 L57.8,651.0 L58.2,651.0 L58.5,651.0 L58.8,651.0 L59.1,651.0 L59.4,650.9 L59.7,650.9 L60.0,650.9 L60.4,650.9 L60.7,650.8 L61.0,650.8 L61.3,650.8 L61.6,650.8 L61.9,650.8 L62.2,650.7 L62.5,650.7 L62.9,650.7 L63.2,650.7 L63.5,650.6 L63.8,650.6 L64.1,650.6 L64.4,650.5 L64.7,650.5 L65.1,650.5 L65.4,650.5 L65.7,650.4 L66.0,650.4 L66.3,650.4 L66.6,650.4 L66.9,650.3 L67.2,650.3 L67.6,650.3 L67.9,650.2 L68.2,650.2 L68.5,650.2 L68.8,650.1 L69.1,650.1 L69.4,650.1 L69.8,650.0 L70.1,650.0 L70.4,650.0 L70.7,649.9 L71.0,649.9 L71.3,649.9 L71.6,649.8 L71.9,649.8 L72.3,649.7 L72.6,649.7 L72.9,649.7 L73.2,649.6 L73.5,649.6 L73.8,649.5 L74.1,649.5 L74.5,649.4 L74.8,649.4 L75.1,649.4 L75.4,649.3 L75.7,649.3 L76.0,649.2 L76.3,649.2 L76.6,649.1 L77.0,649.1 L77.3,649.0 L77.6,649.0 L77.9,648.9 L78.2,648.9 L78.5,648.8 L78.8,648.8 L79.2,648.7 L79.5,648.6 L79.8,648.6 L80.1,648.5 L80.4,648.5 L80.7,648.4 L81.0,648.3 L81.3,648.3 L81.7,648.2 L82.0,648.1 L82.3,648.1 L82.6,648.0 L82.9,647.9 L83.2,647.9 L83.5,647.8 L83.9,647.7 L84.2,647.6 L84.5,647.6 L84.8,647.5 L85.1,647.4 L85.4,647.3 L85.7,647.2 L86.0,647.1 L86.4,647.1 L86.7,647.0 L87.0,646.9 L87.3,646.8 L87.6,646.7 L87.9,646.6 L88.2,646.5 L88.6,646.4 L88.9,646.3 L89.2,646.2 L89.5,646.1 L89.8,646.0 L90.1,645.8 L90.4,645.7 L90.7,645.6 L91.1,645.5 L91.4,645.4 L91.7,645.2 L92.0,645.1 L92.3,645.0 L92.6,644.8 L92.9,644.7 L93.2,644.6 L93.6,644.4 L93.9,644.3 L94.2,644.1 L94.5,644.0 L94.8,643.8 L95.1,643.6 L95.4,643.5 L95.8,643.3 L96.1,643.1 L96.4,642.9 L96.7,642.7 L97.0,642.5 L97.3,642.3 L97.6,642.1 L97.9,641.9 L98.3,641.7 L98.6,641.5 L98.9,641.3 L99.2,641.0 L99.5,640.8 L99.8,640.6 L100.1,640.3 L100.5,640.0 L100.8,639.8 L101.1,639.5 L101.4,639.2 L101.7,638.9 L102.0,638.6 L102.3,638.3 L102.6,638.0 L103.0,637.7 L103.3,637.3 L103.6,637.0 L103.9,636.6 L104.2,636.2 L104.5,635.9 L104.8,635.5 L105.2,635.1 L105.5,634.6 L105.8,634.2 L106.1,633.8 L106.4,633.3 L106.7,632.8 L107.0,632.3 L107.3,631.8 L107.7,631.3 L108.0,630.7 L108.3,630.1 L108.6,629.6 L108.9,628.9 L109.2,628.3 L109.5,627.7 L109.9,627.0 L110.2,626.3 L110.5,625.5 L110.8,624.8 L111.1,624.0 L111.4,623.2 L111.7,622.3 L112.0,621.5 L112.4,620.6 L112.7,619.6 L113.0,618.6 L113.3,617.6 L113.6,616.6 L113.9,615.5 L114.2,614.3 L114.6,613.1 L114.9,611.9 L115.2,610.6 L115.5,609.3 L115.8,607.9 L116.1,606.5 L116.4,605.0 L116.7,603.5 L117.1,601.8 L117.4,600.2 L117.7,598.5 L118.0,596.7 L118.3,594.8 L118.6,592.9 L118.9,590.9 L119.3,588.9 L119.6,586.8 L119.9,584.6 L120.2,582.4 L120.5,580.1 L120.8,577.7 L121.1,575.3 L121.4,572.8 L121.8,570.3 L122.1,567.7 L122.4,565.1 L122.7,562.5 L123.0,559.8 L123.3,557.2 L123.6,554.5 L124.0,551.9 L124.3,549.3 L124.6,546.8 L124.9,544.3 L125.2,541.9 L125.5,539.7 L125.8,537.5 L126.1,535.5 L126.5,533.6 L126.8,532.0 L127.1,530.5 L127.4,529.3 L127.7,528.3 L128.0,527.5 L128.3,527.0 L128.7,526.8 L129.0,526.8 L129.3,527.0 L129.6,527.6 L129.9,528.4 L130.2,529.4 L130.5,530.6 L130.8,532.1 L131.2,533.8 L131.5,535.6 L131.8,537.7 L132.1,539.8 L132.4,542.1 L132.7,544.5 L133.0,547.0 L133.4,549.5 L133.7,552.1 L134.0,554.8 L134.3,557.4 L134.6,560.1 L134.9,562.7 L135.2,565.3 L135.5,567.9 L135.9,570.5 L136.2,573.0 L136.5,575.5 L136.8,577.9 L137.1,580.2 L137.4,582.5 L137.7,584.8 L138.1,586.9 L138.4,589.1 L138.7,591.1 L139.0,593.1 L139.3,595.0 L139.6,596.8 L139.9,598.6 L140.2,600.3 L140.6,602.0 L140.9,603.6 L141.2,605.1 L141.5,606.6 L141.8,608.0 L142.1,609.4 L142.4,610.7 L142.8,612.0 L143.1,613.2 L143.4,614.4 L143.7,615.5 L144.0,616.6 L144.3,617.7 L144.6,618.7 L144.9,619.7 L145.3,620.6 L145.6,621.5 L145.9,622.4 L146.2,623.3 L146.5,624.1 L146.8,624.8 L147.1,625.6 L147.5,626.3 L147.8,627.0 L148.1,627.7 L148.4,628.4 L148.7,629.0 L149.0,629.6 L149.3,630.2 L149.6,630.8 L150.0,631.3 L150.3,631.8 L150.6,632.4 L150.9,632.8 L151.2,633.3 L151.5,633.8 L151.8,634.2 L152.2,634.7 L152.5,635.1 L152.8,635.5 L153.1,635.9 L153.4,636.3 L153.7,636.6 L154.0,637.0 L154.3,637.4 L154.7,637.7 L155.0,638.0 L155.3,638.3 L155.6,638.6 L155.9,638.9 L156.2,639.2 L156.5,639.5 L156.9,639.8 L157.2,640.1 L157.5,640.3 L157.8,640.6 L158.1,640.8 L158.4,641.1 L158.7,641.3 L159.0,641.5 L159.4,641.7 L159.7,642.0 L160.0,642.2 L160.3,642.4 L160.6,642.6 L160.9,642.8 L161.2,642.9 L161.6,643.1 L161.9,643.3 L162.2,643.5 L162.5,643.6 L162.8,643.8 L163.1,644.0 L163.4,644.1 L163.7,644.3 L164.1,644.4 L164.4,644.6 L164.7,644.7 L165.0,644.9 L165.3,645.0 L165.6,645.1 L165.9,645.3 L166.2,645.4 L166.6,645.5 L166.9,645.6 L167.2,645.7 L167.5,645.9 L167.8,646.0 L168.1,646.1 L168.4,646.2 L168.8,646.3 L169.1,646.4 L169.4,646.5 L169.7,646.6 L170.0,646.7 L170.3,646.8 L170.6,646.9 L170.9,647.0 L171.3,647.1 L171.6,647.2 L171.9,647.2 L172.2,647.3 L172.5,647.4 L172.8,647.5 L173.1,647.6 L173.5,647.6 L173.8,647.7 L174.1,647.8 L174.4,647.9 L174.7,647.9 L175.0,648.0 L175.3,648.1 L175.6,648.1 L176.0,648.2 L176.3,648.3 L176.6,648.3 L176.9,648.4 L177.2,648.5 L177.5,648.5 L177.8,648.6 L178.2,648.6 L178.5,648.7 L178.8,648.8 L179.1,648.8 L179.4,648.9 L179.7,648.9 L180.0,649.0 L180.3,649.0 L180.7,649.1 L181.0,649.1 L181.3,649.2 L181.6,649.2 L181.9,649.3 L182.2,649.3 L182.5,649.4 L182.9,649.4 L183.2,649.4 L183.5,649.5 L183.8,649.5 L184.1,649.6 L184.4,649.6 L184.7,649.7 L185.0,649.7 L185.4,649.7 L185.7,649.8 L186.0,649.8 L186.3,649.9 L186.6,649.9 L186.9,649.9 L187.2,650.0 L187.6,650.0 L187.9,650.0 L188.2,650.1 L188.5,650.1 L188.8,650.1 L189.1,650.2 L189.4,650.2 L189.7,650.2 L190.1,650.3 L190.4,650.3 L190.7,650.3 L191.0,650.4 L191.3,650.4 L191.6,650.4 L191.9,650.4 L192.3,650.5 L192.6,650.5 L192.9,650.5 L193.2,650.5 L193.5,650.6 L193.8,650.6 L194.1,650.6 L194.4,650.7 L194.8,650.7 L195.1,650.7 L195.4,650.7 L195.7,650.8 L196.0,650.8 L196.3,650.8 L196.6,650.8 L197.0,650.8 L197.3,650.9 L197.6,650.9 L197.9,650.9 L198.2,650.9 L198.5,651.0 L198.8,651.0 L199.1,651.0 L199.5,651.0 L199.8,651.0 L200.1,651.1 L200.4,651.1" fill="none" stroke="#ea2630" stroke-width="1.2" stroke-linejoin="round" />
<path d="M54.4,652.2 L54.7,652.2 L55.0,652.2 L55.3,652.2 L55.7,652.2 L56.0,652.2 L56.3,652.2 L56.6,652.2 L56.9,652.2 L57.2,652.2 L57.5,652.2 L57.8,652.1 L58.2,652.1 L58.5,652.1 L58.8,652.1 L59.1,652.1 L59.4,652.1 L59.7,652.1 L60.0,652.1 L60.4,652.1 L60.7,652.1 L61.0,652.1 L61.3,652.1 L61.6,652.0 L61.9,652.0 L62.2,652.0 L62.5,652.0 L62.9,652.0 L63.2,652.0 L63.5,652.0 L63.8,652.0 L64.1,652.0 L64.4,652.0 L64.7,651.9 L65.1,651.9 L65.4,651.9 L65.7,651.9 L66.0,651.9 L66.3,651.9 L66.6,651.9 L66.9,651.9 L67.2,651.9 L67.6,651.8 L67.9,651.8 L68.2,651.8 L68.5,651.8 L68.8,651.8 L69.1,651.8 L69.4,651.8 L69.8,651.8 L70.1,651.7 L70.4,651.7 L70.7,651.7 L71.0,651.7 L71.3,651.7 L71.6,651.7 L71.9,651.7 L72.3,651.6 L72.6,651.6 L72.9,651.6 L73.2,651.6 L73.5,651.6 L73.8,651.6 L74.1,651.6 L74.5,651.5 L74.8,651.5 L75.1,651.5 L75.4,651.5 L75.7,651.5 L76.0,651.5 L76.3,651.4 L76.6,651.4 L77.0,651.4 L77.3,651.4 L77.6,651.4 L77.9,651.4 L78.2,651.3 L78.5,651.3 L78.8,651.3 L79.2,651.3 L79.5,651.3 L79.8,651.3 L80.1,651.2 L80.4,651.2 L80.7,651.2 L81.0,651.2 L81.3,651.2 L81.7,651.1 L82.0,651.1 L82.3,651.1 L82.6,651.1 L82.9,651.1 L83.2,651.0 L83.5,651.0 L83.9,651.0 L84.2,651.0 L84.5,650.9 L84.8,650.9 L85.1,650.9 L85.4,650.9 L85.7,650.8 L86.0,650.8 L86.4,650.8 L86.7,650.8 L87.0,650.7 L87.3,650.7 L87.6,650.7 L87.9,650.7 L88.2,650.6 L88.6,650.6 L88.9,650.6 L89.2,650.6 L89.5,650.5 L89.8,650.5 L90.1,650.5 L90.4,650.4 L90.7,650.4 L91.1,650.4 L91.4,650.3 L91.7,650.3 L92.0,650.3 L92.3,650.2 L92.6,650.2 L92.9,650.2 L93.2,650.1 L93.6,650.1 L93.9,650.1 L94.2,650.0 L94.5,650.0 L94.8,650.0 L95.1,649.9 L95.4,649.9 L95.8,649.8 L96.1,649.8 L96.4,649.8 L96.7,649.7 L97.0,649.7 L97.3,649.6 L97.6,649.6 L97.9,649.6 L98.3,649.5 L98.6,649.5 L98.9,649.4 L99.2,649.4 L99.5,649.3 L99.8,649.3 L100.1,649.2 L100.5,649.2 L100.8,649.1 L101.1,649.1 L101.4,649.0 L101.7,649.0 L102.0,648.9 L102.3,648.9 L102.6,648.8 L103.0,648.7 L103.3,648.7 L103.6,648.6 L103.9,648.6 L104.2,648.5 L104.5,648.4 L104.8,648.4 L105.2,648.3 L105.5,648.2 L105.8,648.2 L106.1,648.1 L106.4,648.0 L106.7,648.0 L107.0,647.9 L107.3,647.8 L107.7,647.7 L108.0,647.7 L108.3,647.6 L108.6,647.5 L108.9,647.4 L109.2,647.3 L109.5,647.3 L109.9,647.2 L110.2,647.1 L110.5,647.0 L110.8,646.9 L111.1,646.8 L111.4,646.7 L111.7,646.6 L112.0,646.5 L112.4,646.4 L112.7,646.3 L113.0,646.2 L113.3,646.1 L113.6,646.0 L113.9,645.9 L114.2,645.8 L114.6,645.7 L114.9,645.6 L115.2,645.4 L115.5,645.3 L115.8,645.2 L116.1,645.1 L116.4,644.9 L116.7,644.8 L117.1,644.7 L117.4,644.5 L117.7,644.4 L118.0,644.3 L118.3,644.1 L118.6,644.0 L118.9,643.8 L119.3,643.7 L119.6,643.5 L119.9,643.3 L120.2,643.2 L120.5,643.0 L120.8,642.8 L121.1,642.7 L121.4,642.5 L121.8,642.3 L122.1,642.1 L122.4,642.0 L122.7,641.8 L123.0,641.6 L123.3,641.4 L123.6,641.2 L124.0,641.0 L124.3,640.8 L124.6,640.6 L124.9,640.4 L125.2,640.1 L125.5,639.9 L125.8,639.7 L126.1,639.5 L126.5,639.2 L126.8,639.0 L127.1,638.8 L127.4,638.5 L127.7,638.3 L128.0,638.0 L128.3,637.8 L128.7,637.5 L129.0,637.3 L129.3,637.0 L129.6,636.7 L129.9,636.5 L130.2,636.2 L130.5,635.9 L130.8,635.7 L131.2,635.4 L131.5,635.1 L131.8,634.8 L132.1,634.5 L132.4,634.3 L132.7,634.0 L133.0,633.7 L133.4,633.4 L133.7,633.1 L134.0,632.9 L134.3,632.6 L134.6,632.3 L134.9,632.0 L135.2,631.7 L135.5,631.5 L135.9,631.2 L136.2,630.9 L136.5,630.7 L136.8,630.4 L137.1,630.1 L137.4,629.9 L137.7,629.7 L138.1,629.4 L138.4,629.2 L138.7,629.0 L139.0,628.8 L139.3,628.6 L139.6,628.4 L139.9,628.2 L140.2,628.0 L140.6,627.8 L140.9,627.7 L141.2,627.6 L141.5,627.4 L141.8,627.3 L142.1,627.2 L142.4,627.1 L142.8,627.1 L143.1,627.0 L143.4,627.0 L143.7,626.9 L144.0,626.9 L144.3,626.9 L144.6,626.9 L144.9,626.9 L145.3,627.0 L145.6,627.0 L145.9,627.1 L146.2,627.2 L146.5,627.3 L146.8,627.4 L147.1,627.5 L147.5,627.7 L147.8,627.8 L148.1,628.0 L148.4,628.1 L148.7,628.3 L149.0,628.5 L149.3,628.7 L149.6,628.9 L150.0,629.1 L150.3,629.3 L150.6,629.6 L150.9,629.8 L151.2,630.1 L151.5,630.3 L151.8,630.6 L152.2,630.8 L152.5,631.1 L152.8,631.4 L153.1,631.6 L153.4,631.9 L153.7,632.2 L154.0,632.5 L154.3,632.8 L154.7,633.0 L155.0,633.3 L155.3,633.6 L155.6,633.9 L155.9,634.2 L156.2,634.5 L156.5,634.7 L156.9,635.0 L157.2,635.3 L157.5,635.6 L157.8,635.9 L158.1,636.1 L158.4,636.4 L158.7,636.7 L159.0,636.9 L159.4,637.2 L159.7,637.4 L160.0,637.7 L160.3,638.0 L160.6,638.2 L160.9,638.4 L161.2,638.7 L161.6,638.9 L161.9,639.2 L162.2,639.4 L162.5,639.6 L162.8,639.8 L163.1,640.1 L163.4,640.3 L163.7,640.5 L164.1,640.7 L164.4,640.9 L164.7,641.1 L165.0,641.3 L165.3,641.5 L165.6,641.7 L165.9,641.9 L166.2,642.1 L166.6,642.3 L166.9,642.4 L167.2,642.6 L167.5,642.8 L167.8,643.0 L168.1,643.1 L168.4,643.3 L168.8,643.5 L169.1,643.6 L169.4,643.8 L169.7,643.9 L170.0,644.1 L170.3,644.2 L170.6,644.4 L170.9,644.5 L171.3,644.6 L171.6,644.8 L171.9,644.9 L172.2,645.0 L172.5,645.1 L172.8,645.3 L173.1,645.4 L173.5,645.5 L173.8,645.6 L174.1,645.7 L174.4,645.9 L174.7,646.0 L175.0,646.1 L175.3,646.2 L175.6,646.3 L176.0,646.4 L176.3,646.5 L176.6,646.6 L176.9,646.7 L177.2,646.8 L177.5,646.9 L177.8,647.0 L178.2,647.1 L178.5,647.1 L178.8,647.2 L179.1,647.3 L179.4,647.4 L179.7,647.5 L180.0,647.6 L180.3,647.6 L180.7,647.7 L181.0,647.8 L181.3,647.9 L181.6,647.9 L181.9,648.0 L182.2,648.1 L182.5,648.1 L182.9,648.2 L183.2,648.3 L183.5,648.3 L183.8,648.4 L184.1,648.5 L184.4,648.5 L184.7,648.6 L185.0,648.7 L185.4,648.7 L185.7,648.8 L186.0,648.8 L186.3,648.9 L186.6,648.9 L186.9,649.0 L187.2,649.1 L187.6,649.1 L187.9,649.2 L188.2,649.2 L188.5,649.3 L188.8,649.3 L189.1,649.4 L189.4,649.4 L189.7,649.4 L190.1,649.5 L190.4,649.5 L190.7,649.6 L191.0,649.6 L191.3,649.7 L191.6,649.7 L191.9,649.7 L192.3,649.8 L192.6,649.8 L192.9,649.9 L193.2,649.9 L193.5,649.9 L193.8,650.0 L194.1,650.0 L194.4,650.1 L194.8,650.1 L195.1,650.1 L195.4,650.2 L195.7,650.2 L196.0,650.2 L196.3,650.3 L196.6,650.3 L197.0,650.3 L197.3,650.4 L197.6,650.4 L197.9,650.4 L198.2,650.5 L198.5,650.5 L198.8,650.5 L199.1,650.5 L199.5,650.6 L199.8,650.6 L200.1,650.6 L200.4,650.7" fill="none" stroke="#3a68c2" stroke-width="1.2" stroke-linejoin="round" />
</g>
<text transform="translate(16,580.8) rotate(-90)" font-size="14.8" text-anchor="middle" fill="#222">Intensity (counts)</text>
<rect x="240.8" y="490.5" width="146.5" height="175.89999999999998" fill="none" stroke="#3c3c3c" stroke-width="1.1"/>
<line x1="239.50" y1="666.20" x2="240.80" y2="666.20" stroke="#3c3c3c" stroke-width="1" />
<line x1="237.90" y1="644.30" x2="240.80" y2="644.30" stroke="#3c3c3c" stroke-width="1" />
<text x="228.64" y="648.30" font-size="14.5" fill="#222">0</text>
<line x1="239.50" y1="622.40" x2="240.80" y2="622.40" stroke="#3c3c3c" stroke-width="1" />
<line x1="237.90" y1="600.50" x2="240.80" y2="600.50" stroke="#3c3c3c" stroke-width="1" />
<text x="212.51" y="604.50" font-size="14.5" fill="#222">&#8199;00</text>
<path d="M763,0H583V1100Q518,1040 412,980Q307,920 223,890V1060Q374,1128 487,1225Q600,1322 647,1409H763Z" fill="#222" transform="translate(212.51,604.50) scale(0.007080,-0.007080)"/>
<line x1="239.50" y1="578.60" x2="240.80" y2="578.60" stroke="#3c3c3c" stroke-width="1" />
<line x1="237.90" y1="556.70" x2="240.80" y2="556.70" stroke="#3c3c3c" stroke-width="1" />
<text x="212.51" y="560.70" font-size="14.5" fill="#222">200</text>
<line x1="239.50" y1="534.80" x2="240.80" y2="534.80" stroke="#3c3c3c" stroke-width="1" />
<line x1="237.90" y1="512.90" x2="240.80" y2="512.90" stroke="#3c3c3c" stroke-width="1" />
<text x="212.51" y="516.90" font-size="14.5" fill="#222">300</text>
<line x1="239.50" y1="491.00" x2="240.80" y2="491.00" stroke="#3c3c3c" stroke-width="1" />
<line x1="240.80" y1="666.40" x2="240.80" y2="669.60" stroke="#3c3c3c" stroke-width="1" />
<text x="228.70" y="683.30" font-size="14.5" fill="#222">580</text>
<line x1="261.73" y1="666.40" x2="261.73" y2="668.20" stroke="#3c3c3c" stroke-width="1" />
<line x1="282.66" y1="666.40" x2="282.66" y2="669.60" stroke="#3c3c3c" stroke-width="1" />
<text x="270.56" y="683.30" font-size="14.5" fill="#222">600</text>
<line x1="303.59" y1="666.40" x2="303.59" y2="668.20" stroke="#3c3c3c" stroke-width="1" />
<line x1="324.51" y1="666.40" x2="324.51" y2="669.60" stroke="#3c3c3c" stroke-width="1" />
<text x="312.42" y="683.30" font-size="14.5" fill="#222">620</text>
<line x1="345.44" y1="666.40" x2="345.44" y2="668.20" stroke="#3c3c3c" stroke-width="1" />
<line x1="366.37" y1="666.40" x2="366.37" y2="669.60" stroke="#3c3c3c" stroke-width="1" />
<text x="354.28" y="683.30" font-size="14.5" fill="#222">640</text>
<line x1="387.30" y1="666.40" x2="387.30" y2="668.20" stroke="#3c3c3c" stroke-width="1" />
<text x="312.8" y="702.5" font-size="14.7" text-anchor="middle" fill="#222" font-weight="normal" >Wavelength (nm)</text>
<text x="251.2" y="511.9" font-size="14.8" text-anchor="start" fill="#222" font-weight="normal" >Dark</text>
<clipPath id="cer"><rect x="240.8" y="490.5" width="146.5" height="175.89999999999998"/></clipPath>
<g clip-path="url(#cer)">
<path d="M240.8,641.3 L241.1,638.5 L241.4,644.0 L241.7,645.1 L242.1,641.1 L242.4,641.5 L242.7,642.3 L243.0,640.9 L243.3,643.3 L243.6,642.4 L243.9,641.7 L244.3,643.1 L244.6,642.0 L244.9,643.0 L245.2,642.0 L245.5,642.4 L245.8,645.1 L246.1,642.4 L246.5,644.3 L246.8,643.5 L247.1,644.6 L247.4,641.3 L247.7,642.7 L248.0,642.8 L248.3,640.6 L248.7,641.2 L249.0,642.4 L249.3,644.8 L249.6,641.2 L249.9,642.3 L250.2,642.4 L250.5,640.9 L250.9,642.7 L251.2,641.9 L251.5,640.6 L251.8,641.0 L252.1,642.5 L252.4,639.7 L252.7,640.1 L253.1,639.0 L253.4,641.5 L253.7,641.1 L254.0,640.0 L254.3,640.7 L254.6,641.1 L254.9,641.3 L255.3,641.5 L255.6,641.9 L255.9,641.9 L256.2,640.4 L256.5,641.3 L256.8,642.7 L257.1,640.7 L257.5,638.5 L257.8,638.9 L258.1,643.2 L258.4,641.6 L258.7,639.4 L259.0,640.3 L259.3,640.2 L259.7,640.4 L260.0,640.1 L260.3,641.5 L260.6,638.5 L260.9,641.4 L261.2,640.1 L261.5,637.8 L261.9,638.3 L262.2,639.7 L262.5,639.6 L262.8,640.3 L263.1,640.1 L263.4,639.7 L263.7,637.5 L264.1,639.8 L264.4,638.4 L264.7,638.5 L265.0,638.4 L265.3,639.2 L265.6,637.8 L266.0,638.5 L266.3,638.4 L266.6,639.1 L266.9,641.2 L267.2,637.3 L267.5,637.2 L267.8,638.7 L268.2,638.2 L268.5,637.5 L268.8,639.0 L269.1,636.7 L269.4,636.6 L269.7,636.3 L270.0,636.1 L270.4,639.7 L270.7,636.4 L271.0,637.5 L271.3,635.4 L271.6,635.3 L271.9,635.5 L272.2,636.6 L272.6,632.7 L272.9,636.3 L273.2,637.4 L273.5,634.7 L273.8,637.7 L274.1,633.1 L274.4,634.2 L274.8,633.6 L275.1,633.8 L275.4,634.5 L275.7,636.6 L276.0,635.5 L276.3,633.8 L276.6,634.6 L277.0,633.7 L277.3,634.9 L277.6,634.9 L277.9,633.3 L278.2,632.5 L278.5,633.3 L278.8,634.4 L279.2,635.1 L279.5,630.1 L279.8,634.0 L280.1,633.4 L280.4,633.0 L280.7,630.7 L281.0,632.6 L281.4,630.7 L281.7,630.8 L282.0,632.4 L282.3,630.5 L282.6,632.1 L282.9,630.4 L283.2,629.0 L283.6,630.0 L283.9,630.6 L284.2,629.7 L284.5,629.1 L284.8,628.1 L285.1,631.3 L285.4,630.4 L285.8,627.0 L286.1,627.5 L286.4,627.0 L286.7,626.4 L287.0,626.6 L287.3,626.6 L287.6,625.5 L288.0,624.4 L288.3,624.4 L288.6,624.5 L288.9,625.5 L289.2,623.4 L289.5,624.8 L289.8,623.7 L290.2,622.2 L290.5,621.8 L290.8,620.0 L291.1,619.8 L291.4,619.8 L291.7,620.4 L292.0,619.4 L292.4,619.2 L292.7,616.0 L293.0,617.1 L293.3,618.0 L293.6,617.7 L293.9,614.2 L294.2,616.4 L294.6,614.1 L294.9,613.7 L295.2,611.8 L295.5,613.7 L295.8,611.1 L296.1,610.7 L296.4,609.1 L296.8,607.4 L297.1,608.4 L297.4,607.9 L297.7,605.5 L298.0,607.8 L298.3,604.5 L298.6,605.3 L299.0,604.6 L299.3,604.1 L299.6,603.2 L299.9,598.2 L300.2,597.0 L300.5,597.0 L300.8,594.2 L301.2,594.5 L301.5,594.1 L301.8,593.7 L302.1,589.2 L302.4,587.6 L302.7,585.3 L303.0,587.3 L303.4,584.8 L303.7,585.1 L304.0,578.8 L304.3,577.8 L304.6,576.3 L304.9,575.5 L305.2,573.8 L305.6,572.3 L305.9,567.2 L306.2,568.8 L306.5,563.4 L306.8,562.5 L307.1,563.2 L307.4,562.0 L307.8,558.2 L308.1,554.2 L308.4,554.9 L308.7,547.8 L309.0,544.1 L309.3,543.2 L309.6,546.7 L310.0,546.1 L310.3,535.3 L310.6,531.2 L310.9,534.2 L311.2,529.4 L311.5,529.6 L311.8,528.7 L312.2,522.0 L312.5,524.8 L312.8,518.9 L313.1,514.7 L313.4,519.0 L313.7,511.6 L314.1,520.6 L314.4,512.7 L314.7,514.9 L315.0,506.1 L315.3,514.1 L315.6,516.8 L315.9,508.9 L316.3,519.7 L316.6,513.5 L316.9,518.2 L317.2,511.8 L317.5,517.7 L317.8,515.6 L318.1,519.8 L318.5,524.7 L318.8,529.7 L319.1,517.8 L319.4,524.7 L319.7,531.0 L320.0,529.8 L320.3,527.1 L320.7,537.1 L321.0,526.4 L321.3,536.4 L321.6,538.5 L321.9,534.9 L322.2,540.1 L322.5,545.6 L322.9,541.2 L323.2,544.3 L323.5,543.8 L323.8,551.6 L324.1,553.6 L324.4,549.9 L324.7,554.4 L325.1,560.7 L325.4,557.5 L325.7,555.3 L326.0,560.3 L326.3,556.0 L326.6,562.0 L326.9,562.0 L327.3,567.0 L327.6,565.8 L327.9,565.3 L328.2,564.4 L328.5,566.2 L328.8,565.1 L329.1,573.4 L329.5,569.2 L329.8,570.4 L330.1,573.2 L330.4,571.8 L330.7,574.0 L331.0,572.3 L331.3,574.6 L331.7,573.6 L332.0,577.0 L332.3,573.5 L332.6,575.9 L332.9,574.0 L333.2,578.2 L333.5,579.5 L333.9,579.0 L334.2,580.7 L334.5,582.3 L334.8,581.1 L335.1,581.9 L335.4,583.4 L335.7,583.6 L336.1,585.2 L336.4,584.0 L336.7,587.0 L337.0,582.9 L337.3,586.1 L337.6,585.4 L337.9,589.2 L338.3,587.6 L338.6,588.9 L338.9,587.9 L339.2,588.7 L339.5,593.0 L339.8,589.6 L340.1,594.0 L340.5,590.7 L340.8,593.3 L341.1,595.5 L341.4,593.5 L341.7,595.1 L342.0,597.2 L342.3,597.5 L342.7,596.5 L343.0,599.6 L343.3,599.6 L343.6,596.5 L343.9,600.7 L344.2,599.8 L344.5,600.3 L344.9,600.3 L345.2,601.0 L345.5,606.2 L345.8,604.1 L346.1,602.5 L346.4,605.7 L346.7,602.8 L347.1,605.5 L347.4,608.0 L347.7,606.3 L348.0,605.0 L348.3,609.0 L348.6,608.0 L348.9,610.4 L349.3,610.6 L349.6,610.2 L349.9,610.2 L350.2,611.0 L350.5,611.7 L350.8,609.3 L351.1,614.4 L351.5,616.0 L351.8,613.3 L352.1,614.2 L352.4,616.9 L352.7,613.2 L353.0,616.8 L353.3,618.2 L353.7,616.3 L354.0,616.4 L354.3,614.6 L354.6,620.2 L354.9,620.3 L355.2,619.4 L355.5,620.0 L355.9,619.9 L356.2,621.2 L356.5,622.7 L356.8,621.6 L357.1,620.4 L357.4,620.7 L357.7,623.0 L358.1,621.8 L358.4,622.3 L358.7,623.9 L359.0,624.0 L359.3,623.8 L359.6,620.5 L359.9,624.3 L360.3,626.0 L360.6,625.4 L360.9,626.2 L361.2,624.3 L361.5,628.9 L361.8,627.8 L362.1,625.6 L362.5,626.4 L362.8,627.2 L363.1,626.5 L363.4,629.5 L363.7,627.5 L364.0,629.8 L364.4,630.2 L364.7,628.1 L365.0,630.1 L365.3,629.8 L365.6,628.7 L365.9,631.1 L366.2,629.2 L366.6,627.2 L366.9,630.7 L367.2,629.4 L367.5,629.8 L367.8,632.8 L368.1,633.1 L368.4,631.5 L368.8,634.5 L369.1,631.8 L369.4,631.7 L369.7,631.6 L370.0,631.9 L370.3,630.9 L370.6,633.3 L371.0,631.2 L371.3,632.5 L371.6,632.6 L371.9,633.7 L372.2,632.4 L372.5,634.8 L372.8,633.0 L373.2,632.7 L373.5,635.2 L373.8,635.7 L374.1,635.6 L374.4,634.8 L374.7,634.4 L375.0,633.9 L375.4,632.7 L375.7,633.2 L376.0,635.1 L376.3,636.1 L376.6,637.3 L376.9,634.8 L377.2,635.3 L377.6,636.5 L377.9,636.5 L378.2,636.5 L378.5,639.9 L378.8,636.7 L379.1,636.3 L379.4,637.0 L379.8,638.4 L380.1,637.0 L380.4,636.5 L380.7,634.9 L381.0,636.0 L381.3,636.7 L381.6,637.7 L382.0,639.5 L382.3,638.4 L382.6,639.7 L382.9,638.1 L383.2,636.7 L383.5,636.8 L383.8,637.1 L384.2,638.3 L384.5,637.1 L384.8,638.9 L385.1,641.2 L385.4,638.5 L385.7,638.7 L386.0,641.2 L386.4,639.7 L386.7,642.3 L387.0,639.8 L387.3,637.6" fill="none" stroke="#bdbdbd" stroke-width="2.2" stroke-linejoin="round" />
<path d="M240.8,645.3 L241.1,645.2 L241.4,645.2 L241.7,645.2 L242.1,645.1 L242.4,645.1 L242.7,645.1 L243.0,645.0 L243.3,645.0 L243.6,645.0 L243.9,644.9 L244.3,644.9 L244.6,644.9 L244.9,644.8 L245.2,644.8 L245.5,644.8 L245.8,644.7 L246.1,644.7 L246.5,644.6 L246.8,644.6 L247.1,644.6 L247.4,644.5 L247.7,644.5 L248.0,644.4 L248.3,644.4 L248.7,644.4 L249.0,644.3 L249.3,644.3 L249.6,644.2 L249.9,644.2 L250.2,644.1 L250.5,644.1 L250.9,644.0 L251.2,644.0 L251.5,643.9 L251.8,643.9 L252.1,643.8 L252.4,643.8 L252.7,643.7 L253.1,643.7 L253.4,643.6 L253.7,643.6 L254.0,643.5 L254.3,643.5 L254.6,643.4 L254.9,643.4 L255.3,643.3 L255.6,643.3 L255.9,643.2 L256.2,643.2 L256.5,643.1 L256.8,643.0 L257.1,643.0 L257.5,642.9 L257.8,642.9 L258.1,642.8 L258.4,642.7 L258.7,642.7 L259.0,642.6 L259.3,642.5 L259.7,642.5 L260.0,642.4 L260.3,642.3 L260.6,642.3 L260.9,642.2 L261.2,642.1 L261.5,642.0 L261.9,642.0 L262.2,641.9 L262.5,641.8 L262.8,641.7 L263.1,641.7 L263.4,641.6 L263.7,641.5 L264.1,641.4 L264.4,641.3 L264.7,641.2 L265.0,641.1 L265.3,641.1 L265.6,641.0 L266.0,640.9 L266.3,640.8 L266.6,640.7 L266.9,640.6 L267.2,640.5 L267.5,640.4 L267.8,640.3 L268.2,640.2 L268.5,640.1 L268.8,640.0 L269.1,639.9 L269.4,639.8 L269.7,639.7 L270.0,639.5 L270.4,639.4 L270.7,639.3 L271.0,639.2 L271.3,639.1 L271.6,638.9 L271.9,638.8 L272.2,638.7 L272.6,638.6 L272.9,638.4 L273.2,638.3 L273.5,638.2 L273.8,638.0 L274.1,637.9 L274.4,637.7 L274.8,637.6 L275.1,637.4 L275.4,637.3 L275.7,637.1 L276.0,637.0 L276.3,636.8 L276.6,636.6 L277.0,636.4 L277.3,636.3 L277.6,636.1 L277.9,635.9 L278.2,635.7 L278.5,635.5 L278.8,635.4 L279.2,635.2 L279.5,635.0 L279.8,634.8 L280.1,634.5 L280.4,634.3 L280.7,634.1 L281.0,633.9 L281.4,633.7 L281.7,633.4 L282.0,633.2 L282.3,632.9 L282.6,632.7 L282.9,632.4 L283.2,632.2 L283.6,631.9 L283.9,631.6 L284.2,631.4 L284.5,631.1 L284.8,630.8 L285.1,630.5 L285.4,630.2 L285.8,629.9 L286.1,629.5 L286.4,629.2 L286.7,628.9 L287.0,628.5 L287.3,628.2 L287.6,627.8 L288.0,627.4 L288.3,627.0 L288.6,626.6 L288.9,626.2 L289.2,625.8 L289.5,625.4 L289.8,624.9 L290.2,624.5 L290.5,624.0 L290.8,623.6 L291.1,623.1 L291.4,622.6 L291.7,622.0 L292.0,621.5 L292.4,621.0 L292.7,620.4 L293.0,619.8 L293.3,619.2 L293.6,618.6 L293.9,618.0 L294.2,617.3 L294.6,616.6 L294.9,615.9 L295.2,615.2 L295.5,614.5 L295.8,613.7 L296.1,612.9 L296.4,612.1 L296.8,611.3 L297.1,610.4 L297.4,609.5 L297.7,608.6 L298.0,607.7 L298.3,606.7 L298.6,605.7 L299.0,604.6 L299.3,603.5 L299.6,602.4 L299.9,601.2 L300.2,600.1 L300.5,598.8 L300.8,597.5 L301.2,596.2 L301.5,594.9 L301.8,593.5 L302.1,592.0 L302.4,590.5 L302.7,589.0 L303.0,587.4 L303.4,585.7 L303.7,584.0 L304.0,582.3 L304.3,580.5 L304.6,578.6 L304.9,576.7 L305.2,574.7 L305.6,572.7 L305.9,570.7 L306.2,568.5 L306.5,566.4 L306.8,564.2 L307.1,561.9 L307.4,559.6 L307.8,557.3 L308.1,555.0 L308.4,552.6 L308.7,550.2 L309.0,547.8 L309.3,545.4 L309.6,543.0 L310.0,540.6 L310.3,538.2 L310.6,535.9 L310.9,533.6 L311.2,531.4 L311.5,529.3 L311.8,527.2 L312.2,525.3 L312.5,523.5 L312.8,521.8 L313.1,520.3 L313.4,518.9 L313.7,517.7 L314.1,516.7 L314.4,515.8 L314.7,515.1 L315.0,514.7 L315.3,514.4 L315.6,514.3 L315.9,514.4 L316.3,514.6 L316.6,515.1 L316.9,515.7 L317.2,516.5 L317.5,517.5 L317.8,518.5 L318.1,519.7 L318.5,521.1 L318.8,522.5 L319.1,524.0 L319.4,525.5 L319.7,527.2 L320.0,528.8 L320.3,530.5 L320.7,532.3 L321.0,534.0 L321.3,535.8 L321.6,537.5 L321.9,539.2 L322.2,541.0 L322.5,542.7 L322.9,544.3 L323.2,546.0 L323.5,547.6 L323.8,549.1 L324.1,550.6 L324.4,552.1 L324.7,553.5 L325.1,554.9 L325.4,556.3 L325.7,557.6 L326.0,558.9 L326.3,560.1 L326.6,561.3 L326.9,562.4 L327.3,563.5 L327.6,564.6 L327.9,565.6 L328.2,566.6 L328.5,567.5 L328.8,568.5 L329.1,569.4 L329.5,570.3 L329.8,571.1 L330.1,571.9 L330.4,572.8 L330.7,573.5 L331.0,574.3 L331.3,575.1 L331.7,575.8 L332.0,576.5 L332.3,577.3 L332.6,578.0 L332.9,578.7 L333.2,579.3 L333.5,580.0 L333.9,580.7 L334.2,581.4 L334.5,582.0 L334.8,582.7 L335.1,583.4 L335.4,584.0 L335.7,584.7 L336.1,585.3 L336.4,586.0 L336.7,586.6 L337.0,587.3 L337.3,587.9 L337.6,588.6 L337.9,589.3 L338.3,589.9 L338.6,590.6 L338.9,591.2 L339.2,591.9 L339.5,592.6 L339.8,593.2 L340.1,593.9 L340.5,594.5 L340.8,595.2 L341.1,595.9 L341.4,596.5 L341.7,597.2 L342.0,597.9 L342.3,598.5 L342.7,599.2 L343.0,599.8 L343.3,600.5 L343.6,601.1 L343.9,601.8 L344.2,602.4 L344.5,603.0 L344.9,603.7 L345.2,604.3 L345.5,604.9 L345.8,605.5 L346.1,606.2 L346.4,606.8 L346.7,607.4 L347.1,608.0 L347.4,608.6 L347.7,609.2 L348.0,609.7 L348.3,610.3 L348.6,610.9 L348.9,611.4 L349.3,612.0 L349.6,612.5 L349.9,613.1 L350.2,613.6 L350.5,614.1 L350.8,614.7 L351.1,615.2 L351.5,615.7 L351.8,616.2 L352.1,616.7 L352.4,617.2 L352.7,617.6 L353.0,618.1 L353.3,618.6 L353.7,619.0 L354.0,619.5 L354.3,619.9 L354.6,620.4 L354.9,620.8 L355.2,621.2 L355.5,621.6 L355.9,622.0 L356.2,622.4 L356.5,622.8 L356.8,623.2 L357.1,623.6 L357.4,624.0 L357.7,624.3 L358.1,624.7 L358.4,625.0 L358.7,625.4 L359.0,625.7 L359.3,626.1 L359.6,626.4 L359.9,626.7 L360.3,627.1 L360.6,627.4 L360.9,627.7 L361.2,628.0 L361.5,628.3 L361.8,628.6 L362.1,628.9 L362.5,629.1 L362.8,629.4 L363.1,629.7 L363.4,630.0 L363.7,630.2 L364.0,630.5 L364.4,630.7 L364.7,631.0 L365.0,631.2 L365.3,631.5 L365.6,631.7 L365.9,632.0 L366.2,632.2 L366.6,632.4 L366.9,632.6 L367.2,632.9 L367.5,633.1 L367.8,633.3 L368.1,633.5 L368.4,633.7 L368.8,633.9 L369.1,634.1 L369.4,634.3 L369.7,634.5 L370.0,634.7 L370.3,634.8 L370.6,635.0 L371.0,635.2 L371.3,635.4 L371.6,635.5 L371.9,635.7 L372.2,635.9 L372.5,636.0 L372.8,636.2 L373.2,636.4 L373.5,636.5 L373.8,636.7 L374.1,636.8 L374.4,637.0 L374.7,637.1 L375.0,637.3 L375.4,637.4 L375.7,637.5 L376.0,637.7 L376.3,637.8 L376.6,637.9 L376.9,638.1 L377.2,638.2 L377.6,638.3 L377.9,638.5 L378.2,638.6 L378.5,638.7 L378.8,638.8 L379.1,638.9 L379.4,639.0 L379.8,639.2 L380.1,639.3 L380.4,639.4 L380.7,639.5 L381.0,639.6 L381.3,639.7 L381.6,639.8 L382.0,639.9 L382.3,640.0 L382.6,640.1 L382.9,640.2 L383.2,640.3 L383.5,640.4 L383.8,640.5 L384.2,640.6 L384.5,640.7 L384.8,640.8 L385.1,640.8 L385.4,640.9 L385.7,641.0 L386.0,641.1 L386.4,641.2 L386.7,641.3 L387.0,641.3 L387.3,641.4" fill="none" stroke="#1e1e1e" stroke-width="1.25" stroke-linejoin="round" />
<path d="M240.8,647.4 L241.1,647.4 L241.4,647.3 L241.7,647.3 L242.1,647.3 L242.4,647.3 L242.7,647.3 L243.0,647.2 L243.3,647.2 L243.6,647.2 L243.9,647.2 L244.3,647.2 L244.6,647.1 L244.9,647.1 L245.2,647.1 L245.5,647.1 L245.8,647.0 L246.1,647.0 L246.5,647.0 L246.8,647.0 L247.1,647.0 L247.4,646.9 L247.7,646.9 L248.0,646.9 L248.3,646.9 L248.7,646.8 L249.0,646.8 L249.3,646.8 L249.6,646.8 L249.9,646.7 L250.2,646.7 L250.5,646.7 L250.9,646.6 L251.2,646.6 L251.5,646.6 L251.8,646.6 L252.1,646.5 L252.4,646.5 L252.7,646.5 L253.1,646.4 L253.4,646.4 L253.7,646.4 L254.0,646.3 L254.3,646.3 L254.6,646.3 L254.9,646.2 L255.3,646.2 L255.6,646.2 L255.9,646.1 L256.2,646.1 L256.5,646.1 L256.8,646.0 L257.1,646.0 L257.5,646.0 L257.8,645.9 L258.1,645.9 L258.4,645.8 L258.7,645.8 L259.0,645.8 L259.3,645.7 L259.7,645.7 L260.0,645.6 L260.3,645.6 L260.6,645.5 L260.9,645.5 L261.2,645.4 L261.5,645.4 L261.9,645.4 L262.2,645.3 L262.5,645.3 L262.8,645.2 L263.1,645.2 L263.4,645.1 L263.7,645.1 L264.1,645.0 L264.4,644.9 L264.7,644.9 L265.0,644.8 L265.3,644.8 L265.6,644.7 L266.0,644.7 L266.3,644.6 L266.6,644.5 L266.9,644.5 L267.2,644.4 L267.5,644.3 L267.8,644.3 L268.2,644.2 L268.5,644.1 L268.8,644.1 L269.1,644.0 L269.4,643.9 L269.7,643.8 L270.0,643.8 L270.4,643.7 L270.7,643.6 L271.0,643.5 L271.3,643.4 L271.6,643.4 L271.9,643.3 L272.2,643.2 L272.6,643.1 L272.9,643.0 L273.2,642.9 L273.5,642.8 L273.8,642.7 L274.1,642.6 L274.4,642.5 L274.8,642.4 L275.1,642.3 L275.4,642.2 L275.7,642.1 L276.0,642.0 L276.3,641.9 L276.6,641.7 L277.0,641.6 L277.3,641.5 L277.6,641.4 L277.9,641.2 L278.2,641.1 L278.5,641.0 L278.8,640.8 L279.2,640.7 L279.5,640.6 L279.8,640.4 L280.1,640.3 L280.4,640.1 L280.7,639.9 L281.0,639.8 L281.4,639.6 L281.7,639.4 L282.0,639.3 L282.3,639.1 L282.6,638.9 L282.9,638.7 L283.2,638.5 L283.6,638.3 L283.9,638.1 L284.2,637.9 L284.5,637.7 L284.8,637.5 L285.1,637.2 L285.4,637.0 L285.8,636.8 L286.1,636.5 L286.4,636.3 L286.7,636.0 L287.0,635.7 L287.3,635.5 L287.6,635.2 L288.0,634.9 L288.3,634.6 L288.6,634.3 L288.9,633.9 L289.2,633.6 L289.5,633.3 L289.8,632.9 L290.2,632.6 L290.5,632.2 L290.8,631.8 L291.1,631.4 L291.4,631.0 L291.7,630.6 L292.0,630.2 L292.4,629.7 L292.7,629.3 L293.0,628.8 L293.3,628.3 L293.6,627.8 L293.9,627.3 L294.2,626.7 L294.6,626.2 L294.9,625.6 L295.2,625.0 L295.5,624.4 L295.8,623.8 L296.1,623.1 L296.4,622.4 L296.8,621.7 L297.1,621.0 L297.4,620.2 L297.7,619.4 L298.0,618.6 L298.3,617.8 L298.6,616.9 L299.0,616.0 L299.3,615.1 L299.6,614.1 L299.9,613.1 L300.2,612.1 L300.5,611.0 L300.8,609.9 L301.2,608.7 L301.5,607.6 L301.8,606.3 L302.1,605.0 L302.4,603.7 L302.7,602.4 L303.0,600.9 L303.4,599.5 L303.7,598.0 L304.0,596.4 L304.3,594.8 L304.6,593.2 L304.9,591.5 L305.2,589.7 L305.6,587.9 L305.9,586.1 L306.2,584.2 L306.5,582.2 L306.8,580.3 L307.1,578.2 L307.4,576.2 L307.8,574.1 L308.1,572.0 L308.4,569.9 L308.7,567.7 L309.0,565.6 L309.3,563.4 L309.6,561.3 L310.0,559.1 L310.3,557.1 L310.6,555.0 L310.9,553.0 L311.2,551.1 L311.5,549.3 L311.8,547.5 L312.2,545.9 L312.5,544.4 L312.8,543.0 L313.1,541.8 L313.4,540.8 L313.7,539.9 L314.1,539.2 L314.4,538.6 L314.7,538.3 L315.0,538.2 L315.3,538.2 L315.6,538.5 L315.9,538.9 L316.3,539.6 L316.6,540.4 L316.9,541.4 L317.2,542.5 L317.5,543.9 L317.8,545.3 L318.1,546.9 L318.5,548.6 L318.8,550.4 L319.1,552.3 L319.4,554.2 L319.7,556.3 L320.0,558.3 L320.3,560.4 L320.7,562.6 L321.0,564.7 L321.3,566.9 L321.6,569.0 L321.9,571.2 L322.2,573.3 L322.5,575.4 L322.9,577.4 L323.2,579.5 L323.5,581.5 L323.8,583.4 L324.1,585.3 L324.4,587.2 L324.7,589.0 L325.1,590.8 L325.4,592.5 L325.7,594.2 L326.0,595.8 L326.3,597.4 L326.6,598.9 L326.9,600.4 L327.3,601.8 L327.6,603.2 L327.9,604.5 L328.2,605.8 L328.5,607.1 L328.8,608.3 L329.1,609.4 L329.5,610.6 L329.8,611.7 L330.1,612.7 L330.4,613.7 L330.7,614.7 L331.0,615.7 L331.3,616.6 L331.7,617.4 L332.0,618.3 L332.3,619.1 L332.6,619.9 L332.9,620.7 L333.2,621.4 L333.5,622.1 L333.9,622.8 L334.2,623.5 L334.5,624.1 L334.8,624.8 L335.1,625.4 L335.4,626.0 L335.7,626.5 L336.1,627.1 L336.4,627.6 L336.7,628.1 L337.0,628.6 L337.3,629.1 L337.6,629.6 L337.9,630.0 L338.3,630.4 L338.6,630.9 L338.9,631.3 L339.2,631.7 L339.5,632.1 L339.8,632.4 L340.1,632.8 L340.5,633.1 L340.8,633.5 L341.1,633.8 L341.4,634.1 L341.7,634.5 L342.0,634.8 L342.3,635.1 L342.7,635.3 L343.0,635.6 L343.3,635.9 L343.6,636.2 L343.9,636.4 L344.2,636.7 L344.5,636.9 L344.9,637.1 L345.2,637.4 L345.5,637.6 L345.8,637.8 L346.1,638.0 L346.4,638.2 L346.7,638.4 L347.1,638.6 L347.4,638.8 L347.7,639.0 L348.0,639.2 L348.3,639.4 L348.6,639.5 L348.9,639.7 L349.3,639.9 L349.6,640.0 L349.9,640.2 L350.2,640.3 L350.5,640.5 L350.8,640.6 L351.1,640.8 L351.5,640.9 L351.8,641.1 L352.1,641.2 L352.4,641.3 L352.7,641.5 L353.0,641.6 L353.3,641.7 L353.7,641.8 L354.0,641.9 L354.3,642.0 L354.6,642.2 L354.9,642.3 L355.2,642.4 L355.5,642.5 L355.9,642.6 L356.2,642.7 L356.5,642.8 L356.8,642.9 L357.1,643.0 L357.4,643.1 L357.7,643.2 L358.1,643.2 L358.4,643.3 L358.7,643.4 L359.0,643.5 L359.3,643.6 L359.6,643.7 L359.9,643.7 L360.3,643.8 L360.6,643.9 L360.9,644.0 L361.2,644.0 L361.5,644.1 L361.8,644.2 L362.1,644.2 L362.5,644.3 L362.8,644.4 L363.1,644.4 L363.4,644.5 L363.7,644.6 L364.0,644.6 L364.4,644.7 L364.7,644.7 L365.0,644.8 L365.3,644.9 L365.6,644.9 L365.9,645.0 L366.2,645.0 L366.6,645.1 L366.9,645.1 L367.2,645.2 L367.5,645.2 L367.8,645.3 L368.1,645.3 L368.4,645.4 L368.8,645.4 L369.1,645.5 L369.4,645.5 L369.7,645.6 L370.0,645.6 L370.3,645.7 L370.6,645.7 L371.0,645.7 L371.3,645.8 L371.6,645.8 L371.9,645.9 L372.2,645.9 L372.5,645.9 L372.8,646.0 L373.2,646.0 L373.5,646.1 L373.8,646.1 L374.1,646.1 L374.4,646.2 L374.7,646.2 L375.0,646.2 L375.4,646.3 L375.7,646.3 L376.0,646.3 L376.3,646.4 L376.6,646.4 L376.9,646.4 L377.2,646.5 L377.6,646.5 L377.9,646.5 L378.2,646.5 L378.5,646.6 L378.8,646.6 L379.1,646.6 L379.4,646.7 L379.8,646.7 L380.1,646.7 L380.4,646.7 L380.7,646.8 L381.0,646.8 L381.3,646.8 L381.6,646.8 L382.0,646.9 L382.3,646.9 L382.6,646.9 L382.9,646.9 L383.2,647.0 L383.5,647.0 L383.8,647.0 L384.2,647.0 L384.5,647.1 L384.8,647.1 L385.1,647.1 L385.4,647.1 L385.7,647.1 L386.0,647.2 L386.4,647.2 L386.7,647.2 L387.0,647.2 L387.3,647.3" fill="none" stroke="#ea2630" stroke-width="1.2" stroke-linejoin="round" />
<path d="M240.8,647.5 L241.1,647.5 L241.4,647.5 L241.7,647.4 L242.1,647.4 L242.4,647.4 L242.7,647.4 L243.0,647.4 L243.3,647.4 L243.6,647.4 L243.9,647.3 L244.3,647.3 L244.6,647.3 L244.9,647.3 L245.2,647.3 L245.5,647.3 L245.8,647.3 L246.1,647.2 L246.5,647.2 L246.8,647.2 L247.1,647.2 L247.4,647.2 L247.7,647.2 L248.0,647.1 L248.3,647.1 L248.7,647.1 L249.0,647.1 L249.3,647.1 L249.6,647.1 L249.9,647.0 L250.2,647.0 L250.5,647.0 L250.9,647.0 L251.2,647.0 L251.5,646.9 L251.8,646.9 L252.1,646.9 L252.4,646.9 L252.7,646.9 L253.1,646.8 L253.4,646.8 L253.7,646.8 L254.0,646.8 L254.3,646.8 L254.6,646.7 L254.9,646.7 L255.3,646.7 L255.6,646.7 L255.9,646.7 L256.2,646.6 L256.5,646.6 L256.8,646.6 L257.1,646.6 L257.5,646.5 L257.8,646.5 L258.1,646.5 L258.4,646.5 L258.7,646.5 L259.0,646.4 L259.3,646.4 L259.7,646.4 L260.0,646.4 L260.3,646.3 L260.6,646.3 L260.9,646.3 L261.2,646.2 L261.5,646.2 L261.9,646.2 L262.2,646.2 L262.5,646.1 L262.8,646.1 L263.1,646.1 L263.4,646.1 L263.7,646.0 L264.1,646.0 L264.4,646.0 L264.7,645.9 L265.0,645.9 L265.3,645.9 L265.6,645.8 L266.0,645.8 L266.3,645.8 L266.6,645.7 L266.9,645.7 L267.2,645.7 L267.5,645.6 L267.8,645.6 L268.2,645.6 L268.5,645.5 L268.8,645.5 L269.1,645.5 L269.4,645.4 L269.7,645.4 L270.0,645.4 L270.4,645.3 L270.7,645.3 L271.0,645.2 L271.3,645.2 L271.6,645.2 L271.9,645.1 L272.2,645.1 L272.6,645.0 L272.9,645.0 L273.2,645.0 L273.5,644.9 L273.8,644.9 L274.1,644.8 L274.4,644.8 L274.8,644.7 L275.1,644.7 L275.4,644.7 L275.7,644.6 L276.0,644.6 L276.3,644.5 L276.6,644.5 L277.0,644.4 L277.3,644.4 L277.6,644.3 L277.9,644.3 L278.2,644.2 L278.5,644.2 L278.8,644.1 L279.2,644.0 L279.5,644.0 L279.8,643.9 L280.1,643.9 L280.4,643.8 L280.7,643.8 L281.0,643.7 L281.4,643.6 L281.7,643.6 L282.0,643.5 L282.3,643.4 L282.6,643.4 L282.9,643.3 L283.2,643.3 L283.6,643.2 L283.9,643.1 L284.2,643.0 L284.5,643.0 L284.8,642.9 L285.1,642.8 L285.4,642.8 L285.8,642.7 L286.1,642.6 L286.4,642.5 L286.7,642.5 L287.0,642.4 L287.3,642.3 L287.6,642.2 L288.0,642.1 L288.3,642.0 L288.6,642.0 L288.9,641.9 L289.2,641.8 L289.5,641.7 L289.8,641.6 L290.2,641.5 L290.5,641.4 L290.8,641.3 L291.1,641.2 L291.4,641.1 L291.7,641.0 L292.0,640.9 L292.4,640.8 L292.7,640.7 L293.0,640.6 L293.3,640.5 L293.6,640.4 L293.9,640.3 L294.2,640.2 L294.6,640.0 L294.9,639.9 L295.2,639.8 L295.5,639.7 L295.8,639.6 L296.1,639.4 L296.4,639.3 L296.8,639.2 L297.1,639.0 L297.4,638.9 L297.7,638.8 L298.0,638.6 L298.3,638.5 L298.6,638.3 L299.0,638.2 L299.3,638.0 L299.6,637.9 L299.9,637.7 L300.2,637.6 L300.5,637.4 L300.8,637.2 L301.2,637.1 L301.5,636.9 L301.8,636.7 L302.1,636.5 L302.4,636.4 L302.7,636.2 L303.0,636.0 L303.4,635.8 L303.7,635.6 L304.0,635.4 L304.3,635.2 L304.6,635.0 L304.9,634.8 L305.2,634.6 L305.6,634.4 L305.9,634.2 L306.2,634.0 L306.5,633.7 L306.8,633.5 L307.1,633.3 L307.4,633.0 L307.8,632.8 L308.1,632.6 L308.4,632.3 L308.7,632.1 L309.0,631.8 L309.3,631.5 L309.6,631.3 L310.0,631.0 L310.3,630.7 L310.6,630.5 L310.9,630.2 L311.2,629.9 L311.5,629.6 L311.8,629.3 L312.2,629.0 L312.5,628.7 L312.8,628.4 L313.1,628.1 L313.4,627.7 L313.7,627.4 L314.1,627.1 L314.4,626.8 L314.7,626.4 L315.0,626.1 L315.3,625.7 L315.6,625.4 L315.9,625.0 L316.3,624.7 L316.6,624.3 L316.9,623.9 L317.2,623.6 L317.5,623.2 L317.8,622.8 L318.1,622.4 L318.5,622.1 L318.8,621.7 L319.1,621.3 L319.4,620.9 L319.7,620.5 L320.0,620.1 L320.3,619.7 L320.7,619.3 L321.0,618.9 L321.3,618.5 L321.6,618.1 L321.9,617.7 L322.2,617.3 L322.5,616.9 L322.9,616.5 L323.2,616.1 L323.5,615.7 L323.8,615.3 L324.1,614.9 L324.4,614.5 L324.7,614.1 L325.1,613.7 L325.4,613.4 L325.7,613.0 L326.0,612.6 L326.3,612.3 L326.6,611.9 L326.9,611.6 L327.3,611.3 L327.6,611.0 L327.9,610.6 L328.2,610.3 L328.5,610.1 L328.8,609.8 L329.1,609.5 L329.5,609.3 L329.8,609.0 L330.1,608.8 L330.4,608.6 L330.7,608.4 L331.0,608.3 L331.3,608.1 L331.7,608.0 L332.0,607.8 L332.3,607.7 L332.6,607.6 L332.9,607.6 L333.2,607.5 L333.5,607.5 L333.9,607.5 L334.2,607.5 L334.5,607.5 L334.8,607.5 L335.1,607.6 L335.4,607.6 L335.7,607.7 L336.1,607.8 L336.4,608.0 L336.7,608.1 L337.0,608.3 L337.3,608.4 L337.6,608.6 L337.9,608.8 L338.3,609.1 L338.6,609.3 L338.9,609.6 L339.2,609.8 L339.5,610.1 L339.8,610.4 L340.1,610.7 L340.5,611.0 L340.8,611.3 L341.1,611.6 L341.4,612.0 L341.7,612.3 L342.0,612.7 L342.3,613.0 L342.7,613.4 L343.0,613.8 L343.3,614.2 L343.6,614.5 L343.9,614.9 L344.2,615.3 L344.5,615.7 L344.9,616.1 L345.2,616.5 L345.5,616.9 L345.8,617.3 L346.1,617.7 L346.4,618.1 L346.7,618.5 L347.1,618.9 L347.4,619.3 L347.7,619.7 L348.0,620.1 L348.3,620.5 L348.6,620.9 L348.9,621.3 L349.3,621.7 L349.6,622.1 L349.9,622.5 L350.2,622.9 L350.5,623.2 L350.8,623.6 L351.1,624.0 L351.5,624.3 L351.8,624.7 L352.1,625.1 L352.4,625.4 L352.7,625.8 L353.0,626.1 L353.3,626.5 L353.7,626.8 L354.0,627.1 L354.3,627.5 L354.6,627.8 L354.9,628.1 L355.2,628.4 L355.5,628.7 L355.9,629.0 L356.2,629.3 L356.5,629.6 L356.8,629.9 L357.1,630.2 L357.4,630.5 L357.7,630.8 L358.1,631.0 L358.4,631.3 L358.7,631.6 L359.0,631.8 L359.3,632.1 L359.6,632.3 L359.9,632.6 L360.3,632.8 L360.6,633.1 L360.9,633.3 L361.2,633.5 L361.5,633.8 L361.8,634.0 L362.1,634.2 L362.5,634.4 L362.8,634.6 L363.1,634.8 L363.4,635.0 L363.7,635.3 L364.0,635.4 L364.4,635.6 L364.7,635.8 L365.0,636.0 L365.3,636.2 L365.6,636.4 L365.9,636.6 L366.2,636.7 L366.6,636.9 L366.9,637.1 L367.2,637.3 L367.5,637.4 L367.8,637.6 L368.1,637.7 L368.4,637.9 L368.8,638.0 L369.1,638.2 L369.4,638.3 L369.7,638.5 L370.0,638.6 L370.3,638.8 L370.6,638.9 L371.0,639.0 L371.3,639.2 L371.6,639.3 L371.9,639.4 L372.2,639.6 L372.5,639.7 L372.8,639.8 L373.2,639.9 L373.5,640.1 L373.8,640.2 L374.1,640.3 L374.4,640.4 L374.7,640.5 L375.0,640.6 L375.4,640.7 L375.7,640.8 L376.0,640.9 L376.3,641.0 L376.6,641.1 L376.9,641.2 L377.2,641.3 L377.6,641.4 L377.9,641.5 L378.2,641.6 L378.5,641.7 L378.8,641.8 L379.1,641.9 L379.4,642.0 L379.8,642.1 L380.1,642.1 L380.4,642.2 L380.7,642.3 L381.0,642.4 L381.3,642.5 L381.6,642.5 L382.0,642.6 L382.3,642.7 L382.6,642.8 L382.9,642.8 L383.2,642.9 L383.5,643.0 L383.8,643.1 L384.2,643.1 L384.5,643.2 L384.8,643.3 L385.1,643.3 L385.4,643.4 L385.7,643.5 L386.0,643.5 L386.4,643.6 L386.7,643.6 L387.0,643.7 L387.3,643.8" fill="none" stroke="#3a68c2" stroke-width="1.2" stroke-linejoin="round" />
</g>
<rect x="474.3" y="490.5" width="209.90000000000003" height="176.29999999999995" fill="none" stroke="#3c3c3c" stroke-width="1.1"/>
<line x1="470.60" y1="666.80" x2="474.30" y2="666.80" stroke="#3c3c3c" stroke-width="1" />
<text x="450.37" y="671.90" font-size="14.5" fill="#222">20</text>
<line x1="472.40" y1="639.22" x2="474.30" y2="639.22" stroke="#3c3c3c" stroke-width="1" />
<line x1="470.60" y1="611.65" x2="474.30" y2="611.65" stroke="#3c3c3c" stroke-width="1" />
<text x="450.37" y="616.75" font-size="14.5" fill="#222">30</text>
<line x1="472.40" y1="584.07" x2="474.30" y2="584.07" stroke="#3c3c3c" stroke-width="1" />
<line x1="470.60" y1="556.50" x2="474.30" y2="556.50" stroke="#3c3c3c" stroke-width="1" />
<text x="450.37" y="561.60" font-size="14.5" fill="#222">40</text>
<line x1="472.40" y1="528.92" x2="474.30" y2="528.92" stroke="#3c3c3c" stroke-width="1" />
<line x1="470.60" y1="501.35" x2="474.30" y2="501.35" stroke="#3c3c3c" stroke-width="1" />
<text x="450.37" y="506.45" font-size="14.5" fill="#222">50</text>
<line x1="474.58" y1="666.80" x2="474.58" y2="668.70" stroke="#3c3c3c" stroke-width="1" />
<line x1="492.00" y1="666.80" x2="492.00" y2="670.50" stroke="#3c3c3c" stroke-width="1" />
<text x="487.97" y="686.20" font-size="14.5" fill="#222">&#8199;</text>
<path d="M763,0H583V1100Q518,1040 412,980Q307,920 223,890V1060Q374,1128 487,1225Q600,1322 647,1409H763Z" fill="#222" transform="translate(487.97,686.20) scale(0.007080,-0.007080)"/>
<line x1="509.42" y1="666.80" x2="509.42" y2="668.70" stroke="#3c3c3c" stroke-width="1" />
<line x1="526.84" y1="666.80" x2="526.84" y2="670.50" stroke="#3c3c3c" stroke-width="1" />
<text x="522.81" y="686.20" font-size="14.5" fill="#222">2</text>
<line x1="544.26" y1="666.80" x2="544.26" y2="668.70" stroke="#3c3c3c" stroke-width="1" />
<line x1="561.68" y1="666.80" x2="561.68" y2="670.50" stroke="#3c3c3c" stroke-width="1" />
<text x="557.65" y="686.20" font-size="14.5" fill="#222">3</text>
<line x1="579.10" y1="666.80" x2="579.10" y2="668.70" stroke="#3c3c3c" stroke-width="1" />
<line x1="596.52" y1="666.80" x2="596.52" y2="670.50" stroke="#3c3c3c" stroke-width="1" />
<text x="592.49" y="686.20" font-size="14.5" fill="#222">4</text>
<line x1="613.94" y1="666.80" x2="613.94" y2="668.70" stroke="#3c3c3c" stroke-width="1" />
<line x1="631.36" y1="666.80" x2="631.36" y2="670.50" stroke="#3c3c3c" stroke-width="1" />
<text x="627.33" y="686.20" font-size="14.5" fill="#222">5</text>
<line x1="648.78" y1="666.80" x2="648.78" y2="668.70" stroke="#3c3c3c" stroke-width="1" />
<line x1="666.20" y1="666.80" x2="666.20" y2="670.50" stroke="#3c3c3c" stroke-width="1" />
<text x="662.17" y="686.20" font-size="14.5" fill="#222">6</text>
<line x1="683.62" y1="666.80" x2="683.62" y2="668.70" stroke="#3c3c3c" stroke-width="1" />
<text transform="translate(443.4,582.7) rotate(-90)" font-size="14.9" text-anchor="middle" fill="#222">Trion weight (%)</text>
<text x="587.5" y="704.0" font-size="14.8" text-anchor="middle" fill="#222" font-weight="normal" >Position#</text>
<line x1="492.00" y1="524.80" x2="492.00" y2="542.40" stroke="#ec7a80" stroke-width="1" />
<line x1="489.00" y1="524.80" x2="495.00" y2="524.80" stroke="#ec7a80" stroke-width="1" />
<line x1="489.00" y1="542.40" x2="495.00" y2="542.40" stroke="#ec7a80" stroke-width="1" />
<circle cx="492.0" cy="533.6" r="3.2" fill="#e4414c"/>
<line x1="526.84" y1="537.60" x2="526.84" y2="552.10" stroke="#ec7a80" stroke-width="1" />
<line x1="523.84" y1="537.60" x2="529.84" y2="537.60" stroke="#ec7a80" stroke-width="1" />
<line x1="523.84" y1="552.10" x2="529.84" y2="552.10" stroke="#ec7a80" stroke-width="1" />
<circle cx="526.84" cy="544.9" r="3.2" fill="#e4414c"/>
<line x1="561.68" y1="542.40" x2="561.68" y2="563.30" stroke="#ec7a80" stroke-width="1" />
<line x1="558.68" y1="542.40" x2="564.68" y2="542.40" stroke="#ec7a80" stroke-width="1" />
<line x1="558.68" y1="563.30" x2="564.68" y2="563.30" stroke="#ec7a80" stroke-width="1" />
<circle cx="561.6800000000001" cy="552.9" r="3.2" fill="#e4414c"/>
<line x1="596.52" y1="567.70" x2="596.52" y2="582.60" stroke="#ec7a80" stroke-width="1" />
<line x1="593.52" y1="567.70" x2="599.52" y2="567.70" stroke="#ec7a80" stroke-width="1" />
<line x1="593.52" y1="582.60" x2="599.52" y2="582.60" stroke="#ec7a80" stroke-width="1" />
<circle cx="596.52" cy="575.4" r="3.2" fill="#e4414c"/>
<line x1="631.36" y1="553.70" x2="631.36" y2="565.70" stroke="#ec7a80" stroke-width="1" />
<line x1="628.36" y1="553.70" x2="634.36" y2="553.70" stroke="#ec7a80" stroke-width="1" />
<line x1="628.36" y1="565.70" x2="634.36" y2="565.70" stroke="#ec7a80" stroke-width="1" />
<circle cx="631.36" cy="559.7" r="3.2" fill="#e4414c"/>
<line x1="666.20" y1="560.50" x2="666.20" y2="576.20" stroke="#ec7a80" stroke-width="1" />
<line x1="663.20" y1="560.50" x2="669.20" y2="560.50" stroke="#ec7a80" stroke-width="1" />
<line x1="663.20" y1="576.20" x2="669.20" y2="576.20" stroke="#ec7a80" stroke-width="1" />
<circle cx="666.2" cy="568.1" r="3.2" fill="#e4414c"/>
<line x1="492.00" y1="603.90" x2="492.00" y2="618.70" stroke="#8a8a8a" stroke-width="1" />
<line x1="489.00" y1="603.90" x2="495.00" y2="603.90" stroke="#8a8a8a" stroke-width="1" />
<line x1="489.00" y1="618.70" x2="495.00" y2="618.70" stroke="#8a8a8a" stroke-width="1" />
<polygon points="492.0,607.2 495.9,611.1 492.0,615.0 488.1,611.1" fill="#505050"/>
<line x1="526.84" y1="616.20" x2="526.84" y2="621.20" stroke="#8a8a8a" stroke-width="1" />
<line x1="523.84" y1="616.20" x2="529.84" y2="616.20" stroke="#8a8a8a" stroke-width="1" />
<line x1="523.84" y1="621.20" x2="529.84" y2="621.20" stroke="#8a8a8a" stroke-width="1" />
<polygon points="526.84,614.8000000000001 530.74,618.7 526.84,622.6 522.94,618.7" fill="#505050"/>
<line x1="561.68" y1="612.70" x2="561.68" y2="621.90" stroke="#8a8a8a" stroke-width="1" />
<line x1="558.68" y1="612.70" x2="564.68" y2="612.70" stroke="#8a8a8a" stroke-width="1" />
<line x1="558.68" y1="621.90" x2="564.68" y2="621.90" stroke="#8a8a8a" stroke-width="1" />
<polygon points="561.6800000000001,613.2 565.58,617.1 561.6800000000001,621.0 557.7800000000001,617.1" fill="#505050"/>
<line x1="596.52" y1="609.90" x2="596.52" y2="619.10" stroke="#8a8a8a" stroke-width="1" />
<line x1="593.52" y1="609.90" x2="599.52" y2="609.90" stroke="#8a8a8a" stroke-width="1" />
<line x1="593.52" y1="619.10" x2="599.52" y2="619.10" stroke="#8a8a8a" stroke-width="1" />
<polygon points="596.52,610.4 600.42,614.3 596.52,618.1999999999999 592.62,614.3" fill="#505050"/>
<line x1="631.36" y1="598.00" x2="631.36" y2="603.40" stroke="#8a8a8a" stroke-width="1" />
<line x1="628.36" y1="598.00" x2="634.36" y2="598.00" stroke="#8a8a8a" stroke-width="1" />
<line x1="628.36" y1="603.40" x2="634.36" y2="603.40" stroke="#8a8a8a" stroke-width="1" />
<polygon points="631.36,596.8000000000001 635.26,600.7 631.36,604.6 627.46,600.7" fill="#505050"/>
<polygon points="666.2,630.9 670.1,634.8 666.2,638.6999999999999 662.3000000000001,634.8" fill="#505050"/>
<polygon points="602.2,500.20000000000005 606.1,504.1 602.2,508.0 598.3000000000001,504.1" fill="#505050"/>
<circle cx="602.2" cy="519.4" r="3.2" fill="#e4414c"/>
<text x="614.4" y="508.0" font-size="14.9" text-anchor="start" fill="#222" font-weight="normal" >Bright</text>
<text x="614.4" y="523.4" font-size="14.9" text-anchor="start" fill="#222" font-weight="normal" >Dark</text>
</svg></body></html>
